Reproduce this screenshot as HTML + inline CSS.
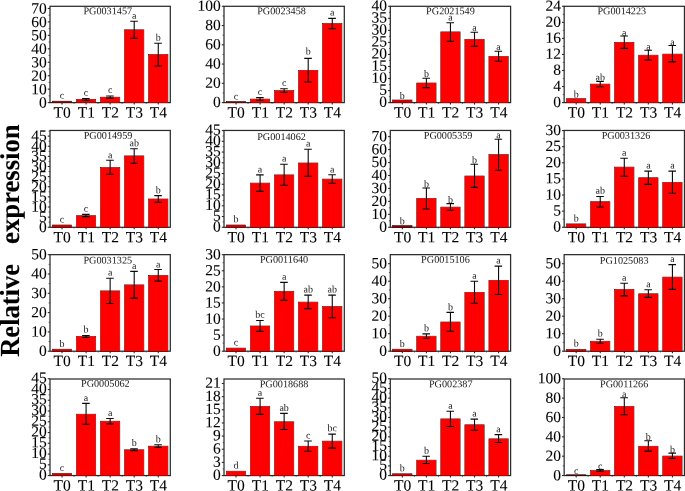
<!DOCTYPE html>
<html><head><meta charset="utf-8"><title>Relative expression</title>
<style>html,body{margin:0;padding:0;background:#fff;}body{width:685px;height:491px;overflow:hidden;font-family:"Liberation Serif",serif;}</style>
</head><body>
<svg width="685" height="491" viewBox="0 0 685 491" style="display:block;will-change:transform">
<rect width="685" height="491" fill="#fff"/>
<g font-family="'Liberation Serif', serif" fill="#000" stroke="#000" stroke-width="0.08" paint-order="stroke" text-rendering="geometricPrecision">
<text transform="translate(19.0,356.8) rotate(-90)" font-size="27.6" font-weight="bold" fill="#000" textLength="92.8" lengthAdjust="spacingAndGlyphs">Relative</text>
<text transform="translate(19.2,243.9) rotate(-90)" font-size="27.2" font-weight="bold" fill="#000" textLength="119.6" lengthAdjust="spacingAndGlyphs">expression</text>
<rect x="50" y="6.3" width="120.3" height="96.3" fill="none" stroke="#2b2b2b" stroke-width="1.25"/>
<rect x="52.38" y="101.2" width="19.3" height="1.5" fill="#8a0000" stroke="#100000" stroke-width="0.6"/>
<rect x="76.44" y="99.3" width="19.3" height="3.4" fill="#ee0000" stroke="#100000" stroke-width="0.6"/>
<rect x="100.5" y="97.2" width="19.3" height="5.5" fill="#ff0000" stroke="#100000" stroke-width="0.6"/>
<rect x="124.56" y="29.8" width="19.3" height="72.9" fill="#ff0000" stroke="#100000" stroke-width="0.6"/>
<rect x="148.62" y="54.5" width="19.3" height="48.2" fill="#ff0000" stroke="#100000" stroke-width="0.6"/>
<line x1="47.8" x2="50" y1="102.6" y2="102.6" stroke="#2b2b2b" stroke-width="1.1"/>
<text transform="translate(46.8,107.6) rotate(0.03)" font-size="15.5" text-anchor="end">0</text>
<line x1="48.6" x2="50" y1="95.88" y2="95.88" stroke="#2b2b2b" stroke-width="0.7"/>
<line x1="47.8" x2="50" y1="89.15" y2="89.15" stroke="#2b2b2b" stroke-width="1.1"/>
<text transform="translate(46.8,94.15) rotate(0.03)" font-size="15.5" text-anchor="end">10</text>
<line x1="48.6" x2="50" y1="82.42" y2="82.42" stroke="#2b2b2b" stroke-width="0.7"/>
<line x1="47.8" x2="50" y1="75.7" y2="75.7" stroke="#2b2b2b" stroke-width="1.1"/>
<text transform="translate(46.8,80.7) rotate(0.03)" font-size="15.5" text-anchor="end">20</text>
<line x1="48.6" x2="50" y1="68.97" y2="68.97" stroke="#2b2b2b" stroke-width="0.7"/>
<line x1="47.8" x2="50" y1="62.25" y2="62.25" stroke="#2b2b2b" stroke-width="1.1"/>
<text transform="translate(46.8,67.25) rotate(0.03)" font-size="15.5" text-anchor="end">30</text>
<line x1="48.6" x2="50" y1="55.52" y2="55.52" stroke="#2b2b2b" stroke-width="0.7"/>
<line x1="47.8" x2="50" y1="48.8" y2="48.8" stroke="#2b2b2b" stroke-width="1.1"/>
<text transform="translate(46.8,53.8) rotate(0.03)" font-size="15.5" text-anchor="end">40</text>
<line x1="48.6" x2="50" y1="42.07" y2="42.07" stroke="#2b2b2b" stroke-width="0.7"/>
<line x1="47.8" x2="50" y1="35.35" y2="35.35" stroke="#2b2b2b" stroke-width="1.1"/>
<text transform="translate(46.8,40.35) rotate(0.03)" font-size="15.5" text-anchor="end">50</text>
<line x1="48.6" x2="50" y1="28.62" y2="28.62" stroke="#2b2b2b" stroke-width="0.7"/>
<line x1="47.8" x2="50" y1="21.9" y2="21.9" stroke="#2b2b2b" stroke-width="1.1"/>
<text transform="translate(46.8,26.9) rotate(0.03)" font-size="15.5" text-anchor="end">60</text>
<line x1="48.6" x2="50" y1="15.18" y2="15.18" stroke="#2b2b2b" stroke-width="0.7"/>
<line x1="47.8" x2="50" y1="8.45" y2="8.45" stroke="#2b2b2b" stroke-width="1.1"/>
<text transform="translate(46.8,13.45) rotate(0.03)" font-size="15.5" text-anchor="end">70</text>
<line x1="62.03" x2="62.03" y1="102.6" y2="104.6" stroke="#2b2b2b" stroke-width="1.1"/>
<text transform="translate(62.23,117.5) rotate(0.03)" font-size="15.5" text-anchor="middle">T0</text>
<line x1="74.06" x2="74.06" y1="102.6" y2="103.8" stroke="#2b2b2b" stroke-width="0.8"/>
<line x1="86.09" x2="86.09" y1="102.6" y2="104.6" stroke="#2b2b2b" stroke-width="1.1"/>
<text transform="translate(86.29,117.5) rotate(0.03)" font-size="15.5" text-anchor="middle">T1</text>
<line x1="98.12" x2="98.12" y1="102.6" y2="103.8" stroke="#2b2b2b" stroke-width="0.8"/>
<line x1="110.15" x2="110.15" y1="102.6" y2="104.6" stroke="#2b2b2b" stroke-width="1.1"/>
<text transform="translate(110.35,117.5) rotate(0.03)" font-size="15.5" text-anchor="middle">T2</text>
<line x1="122.18" x2="122.18" y1="102.6" y2="103.8" stroke="#2b2b2b" stroke-width="0.8"/>
<line x1="134.21" x2="134.21" y1="102.6" y2="104.6" stroke="#2b2b2b" stroke-width="1.1"/>
<text transform="translate(134.41,117.5) rotate(0.03)" font-size="15.5" text-anchor="middle">T3</text>
<line x1="146.24" x2="146.24" y1="102.6" y2="103.8" stroke="#2b2b2b" stroke-width="0.8"/>
<line x1="158.27" x2="158.27" y1="102.6" y2="104.6" stroke="#2b2b2b" stroke-width="1.1"/>
<text transform="translate(158.47,117.5) rotate(0.03)" font-size="15.5" text-anchor="middle">T4</text>
<text transform="translate(107.75,14.2) rotate(0.03)" font-size="10.2" text-anchor="middle" fill="#1a1a1a" stroke="none">PG0031457</text>
<text transform="translate(62.03,98.6) rotate(0.03)" font-size="10" text-anchor="middle" fill="#1a1a1a" stroke="none">c</text>
<path d="M86.09 98.5V100.2M82.09 98.5H89.69M82.09 100.2H89.69" stroke="#0a0a0a" stroke-width="1.1" fill="none"/>
<text transform="translate(86.09,95.7) rotate(0.03)" font-size="10" text-anchor="middle" fill="#1a1a1a" stroke="none">c</text>
<path d="M110.15 96.05V98.1M106.15 96.05H113.75M106.15 98.1H113.75" stroke="#0a0a0a" stroke-width="1.1" fill="none"/>
<text transform="translate(110.15,93) rotate(0.03)" font-size="10" text-anchor="middle" fill="#1a1a1a" stroke="none">c</text>
<path d="M134.21 21.2V38.3M130.21 21.2H137.81M130.21 38.3H137.81" stroke="#0a0a0a" stroke-width="1.1" fill="none"/>
<text transform="translate(134.21,18.8) rotate(0.03)" font-size="10" text-anchor="middle" fill="#1a1a1a" stroke="none">a</text>
<path d="M158.27 43.2V66M154.27 43.2H161.87M154.27 66H161.87" stroke="#0a0a0a" stroke-width="1.1" fill="none"/>
<text transform="translate(158.27,40.8) rotate(0.03)" font-size="10" text-anchor="middle" fill="#1a1a1a" stroke="none">b</text>
<rect x="224" y="6.3" width="120.3" height="96.3" fill="none" stroke="#2b2b2b" stroke-width="1.25"/>
<rect x="226.38" y="101.6" width="19.3" height="1.1" fill="#8a0000" stroke="#100000" stroke-width="0.6"/>
<rect x="250.44" y="99.1" width="19.3" height="3.6" fill="#ff0000" stroke="#100000" stroke-width="0.6"/>
<rect x="274.5" y="90.6" width="19.3" height="12.1" fill="#ff0000" stroke="#100000" stroke-width="0.6"/>
<rect x="298.56" y="70.3" width="19.3" height="32.4" fill="#ff0000" stroke="#100000" stroke-width="0.6"/>
<rect x="322.62" y="23.5" width="19.3" height="79.2" fill="#ff0000" stroke="#100000" stroke-width="0.6"/>
<line x1="221.8" x2="224" y1="102.6" y2="102.6" stroke="#2b2b2b" stroke-width="1.1"/>
<text transform="translate(220.8,107.05) rotate(0.03)" font-size="15.5" text-anchor="end">0</text>
<line x1="222.6" x2="224" y1="92.97" y2="92.97" stroke="#2b2b2b" stroke-width="0.7"/>
<line x1="221.8" x2="224" y1="83.34" y2="83.34" stroke="#2b2b2b" stroke-width="1.1"/>
<text transform="translate(220.8,87.79) rotate(0.03)" font-size="15.5" text-anchor="end">20</text>
<line x1="222.6" x2="224" y1="73.71" y2="73.71" stroke="#2b2b2b" stroke-width="0.7"/>
<line x1="221.8" x2="224" y1="64.08" y2="64.08" stroke="#2b2b2b" stroke-width="1.1"/>
<text transform="translate(220.8,68.53) rotate(0.03)" font-size="15.5" text-anchor="end">40</text>
<line x1="222.6" x2="224" y1="54.45" y2="54.45" stroke="#2b2b2b" stroke-width="0.7"/>
<line x1="221.8" x2="224" y1="44.82" y2="44.82" stroke="#2b2b2b" stroke-width="1.1"/>
<text transform="translate(220.8,49.27) rotate(0.03)" font-size="15.5" text-anchor="end">60</text>
<line x1="222.6" x2="224" y1="35.19" y2="35.19" stroke="#2b2b2b" stroke-width="0.7"/>
<line x1="221.8" x2="224" y1="25.56" y2="25.56" stroke="#2b2b2b" stroke-width="1.1"/>
<text transform="translate(220.8,30.01) rotate(0.03)" font-size="15.5" text-anchor="end">80</text>
<line x1="222.6" x2="224" y1="15.93" y2="15.93" stroke="#2b2b2b" stroke-width="0.7"/>
<line x1="221.8" x2="224" y1="6.3" y2="6.3" stroke="#2b2b2b" stroke-width="1.1"/>
<text transform="translate(220.8,10.75) rotate(0.03)" font-size="15.5" text-anchor="end">100</text>
<line x1="236.03" x2="236.03" y1="102.6" y2="104.6" stroke="#2b2b2b" stroke-width="1.1"/>
<text transform="translate(236.23,117.5) rotate(0.03)" font-size="15.5" text-anchor="middle">T0</text>
<line x1="248.06" x2="248.06" y1="102.6" y2="103.8" stroke="#2b2b2b" stroke-width="0.8"/>
<line x1="260.09" x2="260.09" y1="102.6" y2="104.6" stroke="#2b2b2b" stroke-width="1.1"/>
<text transform="translate(260.29,117.5) rotate(0.03)" font-size="15.5" text-anchor="middle">T1</text>
<line x1="272.12" x2="272.12" y1="102.6" y2="103.8" stroke="#2b2b2b" stroke-width="0.8"/>
<line x1="284.15" x2="284.15" y1="102.6" y2="104.6" stroke="#2b2b2b" stroke-width="1.1"/>
<text transform="translate(284.35,117.5) rotate(0.03)" font-size="15.5" text-anchor="middle">T2</text>
<line x1="296.18" x2="296.18" y1="102.6" y2="103.8" stroke="#2b2b2b" stroke-width="0.8"/>
<line x1="308.21" x2="308.21" y1="102.6" y2="104.6" stroke="#2b2b2b" stroke-width="1.1"/>
<text transform="translate(308.41,117.5) rotate(0.03)" font-size="15.5" text-anchor="middle">T3</text>
<line x1="320.24" x2="320.24" y1="102.6" y2="103.8" stroke="#2b2b2b" stroke-width="0.8"/>
<line x1="332.27" x2="332.27" y1="102.6" y2="104.6" stroke="#2b2b2b" stroke-width="1.1"/>
<text transform="translate(332.47,117.5) rotate(0.03)" font-size="15.5" text-anchor="middle">T4</text>
<text transform="translate(281.55,14.2) rotate(0.03)" font-size="10.2" text-anchor="middle" fill="#1a1a1a" stroke="none">PG0023458</text>
<text transform="translate(236.03,99.5) rotate(0.03)" font-size="10" text-anchor="middle" fill="#1a1a1a" stroke="none">c</text>
<path d="M260.09 97.6V100.2M256.09 97.6H263.69M256.09 100.2H263.69" stroke="#0a0a0a" stroke-width="1.1" fill="none"/>
<text transform="translate(260.09,95.1) rotate(0.03)" font-size="10" text-anchor="middle" fill="#1a1a1a" stroke="none">c</text>
<path d="M284.15 88.8V92.3M280.15 88.8H287.75M280.15 92.3H287.75" stroke="#0a0a0a" stroke-width="1.1" fill="none"/>
<text transform="translate(284.15,85.9) rotate(0.03)" font-size="10" text-anchor="middle" fill="#1a1a1a" stroke="none">c</text>
<path d="M308.21 58.4V82M304.21 58.4H311.81M304.21 82H311.81" stroke="#0a0a0a" stroke-width="1.1" fill="none"/>
<text transform="translate(308.21,54.6) rotate(0.03)" font-size="10" text-anchor="middle" fill="#1a1a1a" stroke="none">b</text>
<path d="M332.27 18.4V28.8M328.27 18.4H335.87M328.27 28.8H335.87" stroke="#0a0a0a" stroke-width="1.1" fill="none"/>
<text transform="translate(332.27,15.6) rotate(0.03)" font-size="10" text-anchor="middle" fill="#1a1a1a" stroke="none">a</text>
<rect x="390.3" y="6.3" width="120.3" height="96.3" fill="none" stroke="#2b2b2b" stroke-width="1.25"/>
<rect x="392.68" y="100" width="19.3" height="2.7" fill="#d00000" stroke="#100000" stroke-width="0.6"/>
<rect x="416.74" y="83" width="19.3" height="19.7" fill="#ff0000" stroke="#100000" stroke-width="0.6"/>
<rect x="440.8" y="31.9" width="19.3" height="70.8" fill="#ff0000" stroke="#100000" stroke-width="0.6"/>
<rect x="464.86" y="39.3" width="19.3" height="63.4" fill="#ff0000" stroke="#100000" stroke-width="0.6"/>
<rect x="488.92" y="56.4" width="19.3" height="46.3" fill="#ff0000" stroke="#100000" stroke-width="0.6"/>
<line x1="388.1" x2="390.3" y1="102.6" y2="102.6" stroke="#2b2b2b" stroke-width="1.1"/>
<text transform="translate(387.1,106.75) rotate(0.03)" font-size="15.5" text-anchor="end">0</text>
<line x1="388.9" x2="390.3" y1="96.58" y2="96.58" stroke="#2b2b2b" stroke-width="0.7"/>
<line x1="388.1" x2="390.3" y1="90.56" y2="90.56" stroke="#2b2b2b" stroke-width="1.1"/>
<text transform="translate(387.1,94.71) rotate(0.03)" font-size="15.5" text-anchor="end">5</text>
<line x1="388.9" x2="390.3" y1="84.54" y2="84.54" stroke="#2b2b2b" stroke-width="0.7"/>
<line x1="388.1" x2="390.3" y1="78.52" y2="78.52" stroke="#2b2b2b" stroke-width="1.1"/>
<text transform="translate(387.1,82.67) rotate(0.03)" font-size="15.5" text-anchor="end">10</text>
<line x1="388.9" x2="390.3" y1="72.5" y2="72.5" stroke="#2b2b2b" stroke-width="0.7"/>
<line x1="388.1" x2="390.3" y1="66.48" y2="66.48" stroke="#2b2b2b" stroke-width="1.1"/>
<text transform="translate(387.1,70.63) rotate(0.03)" font-size="15.5" text-anchor="end">15</text>
<line x1="388.9" x2="390.3" y1="60.46" y2="60.46" stroke="#2b2b2b" stroke-width="0.7"/>
<line x1="388.1" x2="390.3" y1="54.44" y2="54.44" stroke="#2b2b2b" stroke-width="1.1"/>
<text transform="translate(387.1,58.59) rotate(0.03)" font-size="15.5" text-anchor="end">20</text>
<line x1="388.9" x2="390.3" y1="48.42" y2="48.42" stroke="#2b2b2b" stroke-width="0.7"/>
<line x1="388.1" x2="390.3" y1="42.4" y2="42.4" stroke="#2b2b2b" stroke-width="1.1"/>
<text transform="translate(387.1,46.55) rotate(0.03)" font-size="15.5" text-anchor="end">25</text>
<line x1="388.9" x2="390.3" y1="36.38" y2="36.38" stroke="#2b2b2b" stroke-width="0.7"/>
<line x1="388.1" x2="390.3" y1="30.36" y2="30.36" stroke="#2b2b2b" stroke-width="1.1"/>
<text transform="translate(387.1,34.51) rotate(0.03)" font-size="15.5" text-anchor="end">30</text>
<line x1="388.9" x2="390.3" y1="24.34" y2="24.34" stroke="#2b2b2b" stroke-width="0.7"/>
<line x1="388.1" x2="390.3" y1="18.32" y2="18.32" stroke="#2b2b2b" stroke-width="1.1"/>
<text transform="translate(387.1,22.47) rotate(0.03)" font-size="15.5" text-anchor="end">35</text>
<line x1="388.9" x2="390.3" y1="12.3" y2="12.3" stroke="#2b2b2b" stroke-width="0.7"/>
<line x1="388.1" x2="390.3" y1="6.28" y2="6.28" stroke="#2b2b2b" stroke-width="1.1"/>
<text transform="translate(387.1,10.43) rotate(0.03)" font-size="15.5" text-anchor="end">40</text>
<line x1="402.33" x2="402.33" y1="102.6" y2="104.6" stroke="#2b2b2b" stroke-width="1.1"/>
<text transform="translate(402.53,117.5) rotate(0.03)" font-size="15.5" text-anchor="middle">T0</text>
<line x1="414.36" x2="414.36" y1="102.6" y2="103.8" stroke="#2b2b2b" stroke-width="0.8"/>
<line x1="426.39" x2="426.39" y1="102.6" y2="104.6" stroke="#2b2b2b" stroke-width="1.1"/>
<text transform="translate(426.59,117.5) rotate(0.03)" font-size="15.5" text-anchor="middle">T1</text>
<line x1="438.42" x2="438.42" y1="102.6" y2="103.8" stroke="#2b2b2b" stroke-width="0.8"/>
<line x1="450.45" x2="450.45" y1="102.6" y2="104.6" stroke="#2b2b2b" stroke-width="1.1"/>
<text transform="translate(450.65,117.5) rotate(0.03)" font-size="15.5" text-anchor="middle">T2</text>
<line x1="462.48" x2="462.48" y1="102.6" y2="103.8" stroke="#2b2b2b" stroke-width="0.8"/>
<line x1="474.51" x2="474.51" y1="102.6" y2="104.6" stroke="#2b2b2b" stroke-width="1.1"/>
<text transform="translate(474.71,117.5) rotate(0.03)" font-size="15.5" text-anchor="middle">T3</text>
<line x1="486.54" x2="486.54" y1="102.6" y2="103.8" stroke="#2b2b2b" stroke-width="0.8"/>
<line x1="498.57" x2="498.57" y1="102.6" y2="104.6" stroke="#2b2b2b" stroke-width="1.1"/>
<text transform="translate(498.77,117.5) rotate(0.03)" font-size="15.5" text-anchor="middle">T4</text>
<text transform="translate(450.45,14.2) rotate(0.03)" font-size="10.2" text-anchor="middle" fill="#1a1a1a" stroke="none">PG2021549</text>
<text transform="translate(402.33,98.9) rotate(0.03)" font-size="10" text-anchor="middle" fill="#1a1a1a" stroke="none">b</text>
<path d="M426.39 78.3V87.6M422.39 78.3H429.99M422.39 87.6H429.99" stroke="#0a0a0a" stroke-width="1.1" fill="none"/>
<text transform="translate(426.39,77) rotate(0.03)" font-size="10" text-anchor="middle" fill="#1a1a1a" stroke="none">b</text>
<path d="M450.45 22.8V41.4M446.45 22.8H454.05M446.45 41.4H454.05" stroke="#0a0a0a" stroke-width="1.1" fill="none"/>
<text transform="translate(450.45,20.5) rotate(0.03)" font-size="10" text-anchor="middle" fill="#1a1a1a" stroke="none">a</text>
<path d="M474.51 32.3V46.3M470.51 32.3H478.11M470.51 46.3H478.11" stroke="#0a0a0a" stroke-width="1.1" fill="none"/>
<text transform="translate(474.51,30.7) rotate(0.03)" font-size="10" text-anchor="middle" fill="#1a1a1a" stroke="none">a</text>
<path d="M498.57 51.2V61.3M494.57 51.2H502.17M494.57 61.3H502.17" stroke="#0a0a0a" stroke-width="1.1" fill="none"/>
<text transform="translate(498.57,49.9) rotate(0.03)" font-size="10" text-anchor="middle" fill="#1a1a1a" stroke="none">a</text>
<rect x="564.15" y="6.3" width="120.3" height="96.3" fill="none" stroke="#2b2b2b" stroke-width="1.25"/>
<rect x="566.53" y="98.7" width="19.3" height="4" fill="#ff0000" stroke="#100000" stroke-width="0.6"/>
<rect x="590.59" y="84.1" width="19.3" height="18.6" fill="#ff0000" stroke="#100000" stroke-width="0.6"/>
<rect x="614.65" y="42.3" width="19.3" height="60.4" fill="#ff0000" stroke="#100000" stroke-width="0.6"/>
<rect x="638.71" y="55.2" width="19.3" height="47.5" fill="#ff0000" stroke="#100000" stroke-width="0.6"/>
<rect x="662.77" y="54.1" width="19.3" height="48.6" fill="#ff0000" stroke="#100000" stroke-width="0.6"/>
<line x1="561.95" x2="564.15" y1="102.6" y2="102.6" stroke="#2b2b2b" stroke-width="1.1"/>
<text transform="translate(560.95,106.95) rotate(0.03)" font-size="15.5" text-anchor="end">0</text>
<line x1="562.75" x2="564.15" y1="94.57" y2="94.57" stroke="#2b2b2b" stroke-width="0.7"/>
<line x1="561.95" x2="564.15" y1="86.55" y2="86.55" stroke="#2b2b2b" stroke-width="1.1"/>
<text transform="translate(560.95,90.9) rotate(0.03)" font-size="15.5" text-anchor="end">4</text>
<line x1="562.75" x2="564.15" y1="78.52" y2="78.52" stroke="#2b2b2b" stroke-width="0.7"/>
<line x1="561.95" x2="564.15" y1="70.5" y2="70.5" stroke="#2b2b2b" stroke-width="1.1"/>
<text transform="translate(560.95,74.85) rotate(0.03)" font-size="15.5" text-anchor="end">8</text>
<line x1="562.75" x2="564.15" y1="62.48" y2="62.48" stroke="#2b2b2b" stroke-width="0.7"/>
<line x1="561.95" x2="564.15" y1="54.45" y2="54.45" stroke="#2b2b2b" stroke-width="1.1"/>
<text transform="translate(560.95,58.8) rotate(0.03)" font-size="15.5" text-anchor="end">12</text>
<line x1="562.75" x2="564.15" y1="46.42" y2="46.42" stroke="#2b2b2b" stroke-width="0.7"/>
<line x1="561.95" x2="564.15" y1="38.4" y2="38.4" stroke="#2b2b2b" stroke-width="1.1"/>
<text transform="translate(560.95,42.75) rotate(0.03)" font-size="15.5" text-anchor="end">16</text>
<line x1="562.75" x2="564.15" y1="30.37" y2="30.37" stroke="#2b2b2b" stroke-width="0.7"/>
<line x1="561.95" x2="564.15" y1="22.35" y2="22.35" stroke="#2b2b2b" stroke-width="1.1"/>
<text transform="translate(560.95,26.7) rotate(0.03)" font-size="15.5" text-anchor="end">20</text>
<line x1="562.75" x2="564.15" y1="14.32" y2="14.32" stroke="#2b2b2b" stroke-width="0.7"/>
<line x1="561.95" x2="564.15" y1="6.3" y2="6.3" stroke="#2b2b2b" stroke-width="1.1"/>
<text transform="translate(560.95,10.65) rotate(0.03)" font-size="15.5" text-anchor="end">24</text>
<line x1="576.18" x2="576.18" y1="102.6" y2="104.6" stroke="#2b2b2b" stroke-width="1.1"/>
<text transform="translate(576.38,117.5) rotate(0.03)" font-size="15.5" text-anchor="middle">T0</text>
<line x1="588.21" x2="588.21" y1="102.6" y2="103.8" stroke="#2b2b2b" stroke-width="0.8"/>
<line x1="600.24" x2="600.24" y1="102.6" y2="104.6" stroke="#2b2b2b" stroke-width="1.1"/>
<text transform="translate(600.44,117.5) rotate(0.03)" font-size="15.5" text-anchor="middle">T1</text>
<line x1="612.27" x2="612.27" y1="102.6" y2="103.8" stroke="#2b2b2b" stroke-width="0.8"/>
<line x1="624.3" x2="624.3" y1="102.6" y2="104.6" stroke="#2b2b2b" stroke-width="1.1"/>
<text transform="translate(624.5,117.5) rotate(0.03)" font-size="15.5" text-anchor="middle">T2</text>
<line x1="636.33" x2="636.33" y1="102.6" y2="103.8" stroke="#2b2b2b" stroke-width="0.8"/>
<line x1="648.36" x2="648.36" y1="102.6" y2="104.6" stroke="#2b2b2b" stroke-width="1.1"/>
<text transform="translate(648.56,117.5) rotate(0.03)" font-size="15.5" text-anchor="middle">T3</text>
<line x1="660.39" x2="660.39" y1="102.6" y2="103.8" stroke="#2b2b2b" stroke-width="0.8"/>
<line x1="672.42" x2="672.42" y1="102.6" y2="104.6" stroke="#2b2b2b" stroke-width="1.1"/>
<text transform="translate(672.62,117.5) rotate(0.03)" font-size="15.5" text-anchor="middle">T4</text>
<text transform="translate(621.8,14.2) rotate(0.03)" font-size="10.2" text-anchor="middle" fill="#1a1a1a" stroke="none">PG0014223</text>
<text transform="translate(576.18,97.6) rotate(0.03)" font-size="10" text-anchor="middle" fill="#1a1a1a" stroke="none">b</text>
<path d="M600.24 81.5V86.7M596.24 81.5H603.84M596.24 86.7H603.84" stroke="#0a0a0a" stroke-width="1.1" fill="none"/>
<text transform="translate(600.24,80.4) rotate(0.03)" font-size="10" text-anchor="middle" fill="#1a1a1a" stroke="none">ab</text>
<path d="M624.3 36.05V48.4M620.3 36.05H627.9M620.3 48.4H627.9" stroke="#0a0a0a" stroke-width="1.1" fill="none"/>
<text transform="translate(624.3,35.7) rotate(0.03)" font-size="10" text-anchor="middle" fill="#1a1a1a" stroke="none">a</text>
<path d="M648.36 50.3V60M644.36 50.3H651.96M644.36 60H651.96" stroke="#0a0a0a" stroke-width="1.1" fill="none"/>
<text transform="translate(648.36,49.7) rotate(0.03)" font-size="10" text-anchor="middle" fill="#1a1a1a" stroke="none">a</text>
<path d="M672.42 45.5V61.9M668.42 45.5H676.02M668.42 61.9H676.02" stroke="#0a0a0a" stroke-width="1.1" fill="none"/>
<text transform="translate(672.42,45.2) rotate(0.03)" font-size="10" text-anchor="middle" fill="#1a1a1a" stroke="none">a</text>
<rect x="50" y="130.45" width="120.3" height="96.82" fill="none" stroke="#2b2b2b" stroke-width="1.25"/>
<rect x="52.38" y="225" width="19.3" height="2.37" fill="#d00000" stroke="#100000" stroke-width="0.6"/>
<rect x="76.44" y="215.7" width="19.3" height="11.67" fill="#ff0000" stroke="#100000" stroke-width="0.6"/>
<rect x="100.5" y="167.5" width="19.3" height="59.87" fill="#ff0000" stroke="#100000" stroke-width="0.6"/>
<rect x="124.56" y="155.9" width="19.3" height="71.47" fill="#ff0000" stroke="#100000" stroke-width="0.6"/>
<rect x="148.62" y="199" width="19.3" height="28.37" fill="#ff0000" stroke="#100000" stroke-width="0.6"/>
<line x1="47.8" x2="50" y1="227.27" y2="227.27" stroke="#2b2b2b" stroke-width="1.1"/>
<text transform="translate(46.8,231.97) rotate(0.03)" font-size="15.5" text-anchor="end">0</text>
<line x1="48.6" x2="50" y1="222.21" y2="222.21" stroke="#2b2b2b" stroke-width="0.7"/>
<line x1="47.8" x2="50" y1="217.14" y2="217.14" stroke="#2b2b2b" stroke-width="1.1"/>
<text transform="translate(46.8,221.84) rotate(0.03)" font-size="15.5" text-anchor="end">5</text>
<line x1="48.6" x2="50" y1="212.08" y2="212.08" stroke="#2b2b2b" stroke-width="0.7"/>
<line x1="47.8" x2="50" y1="207.01" y2="207.01" stroke="#2b2b2b" stroke-width="1.1"/>
<text transform="translate(46.8,211.71) rotate(0.03)" font-size="15.5" text-anchor="end">10</text>
<line x1="48.6" x2="50" y1="201.95" y2="201.95" stroke="#2b2b2b" stroke-width="0.7"/>
<line x1="47.8" x2="50" y1="196.88" y2="196.88" stroke="#2b2b2b" stroke-width="1.1"/>
<text transform="translate(46.8,201.58) rotate(0.03)" font-size="15.5" text-anchor="end">15</text>
<line x1="48.6" x2="50" y1="191.81" y2="191.81" stroke="#2b2b2b" stroke-width="0.7"/>
<line x1="47.8" x2="50" y1="186.75" y2="186.75" stroke="#2b2b2b" stroke-width="1.1"/>
<text transform="translate(46.8,191.45) rotate(0.03)" font-size="15.5" text-anchor="end">20</text>
<line x1="48.6" x2="50" y1="181.69" y2="181.69" stroke="#2b2b2b" stroke-width="0.7"/>
<line x1="47.8" x2="50" y1="176.62" y2="176.62" stroke="#2b2b2b" stroke-width="1.1"/>
<text transform="translate(46.8,181.32) rotate(0.03)" font-size="15.5" text-anchor="end">25</text>
<line x1="48.6" x2="50" y1="171.56" y2="171.56" stroke="#2b2b2b" stroke-width="0.7"/>
<line x1="47.8" x2="50" y1="166.49" y2="166.49" stroke="#2b2b2b" stroke-width="1.1"/>
<text transform="translate(46.8,171.19) rotate(0.03)" font-size="15.5" text-anchor="end">30</text>
<line x1="48.6" x2="50" y1="161.43" y2="161.43" stroke="#2b2b2b" stroke-width="0.7"/>
<line x1="47.8" x2="50" y1="156.36" y2="156.36" stroke="#2b2b2b" stroke-width="1.1"/>
<text transform="translate(46.8,161.06) rotate(0.03)" font-size="15.5" text-anchor="end">35</text>
<line x1="48.6" x2="50" y1="151.3" y2="151.3" stroke="#2b2b2b" stroke-width="0.7"/>
<line x1="47.8" x2="50" y1="146.23" y2="146.23" stroke="#2b2b2b" stroke-width="1.1"/>
<text transform="translate(46.8,150.93) rotate(0.03)" font-size="15.5" text-anchor="end">40</text>
<line x1="48.6" x2="50" y1="141.17" y2="141.17" stroke="#2b2b2b" stroke-width="0.7"/>
<line x1="47.8" x2="50" y1="136.1" y2="136.1" stroke="#2b2b2b" stroke-width="1.1"/>
<text transform="translate(46.8,140.8) rotate(0.03)" font-size="15.5" text-anchor="end">45</text>
<line x1="48.6" x2="50" y1="131.04" y2="131.04" stroke="#2b2b2b" stroke-width="0.7"/>
<line x1="62.03" x2="62.03" y1="227.27" y2="229.27" stroke="#2b2b2b" stroke-width="1.1"/>
<text transform="translate(62.23,242.17) rotate(0.03)" font-size="15.5" text-anchor="middle">T0</text>
<line x1="74.06" x2="74.06" y1="227.27" y2="228.47" stroke="#2b2b2b" stroke-width="0.8"/>
<line x1="86.09" x2="86.09" y1="227.27" y2="229.27" stroke="#2b2b2b" stroke-width="1.1"/>
<text transform="translate(86.29,242.17) rotate(0.03)" font-size="15.5" text-anchor="middle">T1</text>
<line x1="98.12" x2="98.12" y1="227.27" y2="228.47" stroke="#2b2b2b" stroke-width="0.8"/>
<line x1="110.15" x2="110.15" y1="227.27" y2="229.27" stroke="#2b2b2b" stroke-width="1.1"/>
<text transform="translate(110.35,242.17) rotate(0.03)" font-size="15.5" text-anchor="middle">T2</text>
<line x1="122.18" x2="122.18" y1="227.27" y2="228.47" stroke="#2b2b2b" stroke-width="0.8"/>
<line x1="134.21" x2="134.21" y1="227.27" y2="229.27" stroke="#2b2b2b" stroke-width="1.1"/>
<text transform="translate(134.41,242.17) rotate(0.03)" font-size="15.5" text-anchor="middle">T3</text>
<line x1="146.24" x2="146.24" y1="227.27" y2="228.47" stroke="#2b2b2b" stroke-width="0.8"/>
<line x1="158.27" x2="158.27" y1="227.27" y2="229.27" stroke="#2b2b2b" stroke-width="1.1"/>
<text transform="translate(158.47,242.17) rotate(0.03)" font-size="15.5" text-anchor="middle">T4</text>
<text transform="translate(108.05,138.7) rotate(0.03)" font-size="10.2" text-anchor="middle" fill="#1a1a1a" stroke="none">PG0014959</text>
<text transform="translate(62.03,222.6) rotate(0.03)" font-size="10" text-anchor="middle" fill="#1a1a1a" stroke="none">c</text>
<path d="M86.09 214.4V216.6M82.09 214.4H89.69M82.09 216.6H89.69" stroke="#0a0a0a" stroke-width="1.1" fill="none"/>
<text transform="translate(86.09,211.7) rotate(0.03)" font-size="10" text-anchor="middle" fill="#1a1a1a" stroke="none">c</text>
<path d="M110.15 160.3V174.3M106.15 160.3H113.75M106.15 174.3H113.75" stroke="#0a0a0a" stroke-width="1.1" fill="none"/>
<text transform="translate(110.15,158.2) rotate(0.03)" font-size="10" text-anchor="middle" fill="#1a1a1a" stroke="none">a</text>
<path d="M134.21 148.7V163.3M130.21 148.7H137.81M130.21 163.3H137.81" stroke="#0a0a0a" stroke-width="1.1" fill="none"/>
<text transform="translate(134.21,146.3) rotate(0.03)" font-size="10" text-anchor="middle" fill="#1a1a1a" stroke="none">ab</text>
<path d="M158.27 195.6V202.3M154.27 195.6H161.87M154.27 202.3H161.87" stroke="#0a0a0a" stroke-width="1.1" fill="none"/>
<text transform="translate(158.27,193.3) rotate(0.03)" font-size="10" text-anchor="middle" fill="#1a1a1a" stroke="none">b</text>
<rect x="224" y="130.45" width="120.3" height="96.82" fill="none" stroke="#2b2b2b" stroke-width="1.25"/>
<rect x="226.38" y="225" width="19.3" height="2.37" fill="#d00000" stroke="#100000" stroke-width="0.6"/>
<rect x="250.44" y="183.1" width="19.3" height="44.27" fill="#ff0000" stroke="#100000" stroke-width="0.6"/>
<rect x="274.5" y="174.9" width="19.3" height="52.47" fill="#ff0000" stroke="#100000" stroke-width="0.6"/>
<rect x="298.56" y="163" width="19.3" height="64.37" fill="#ff0000" stroke="#100000" stroke-width="0.6"/>
<rect x="322.62" y="179.1" width="19.3" height="48.27" fill="#ff0000" stroke="#100000" stroke-width="0.6"/>
<line x1="221.8" x2="224" y1="227.27" y2="227.27" stroke="#2b2b2b" stroke-width="1.1"/>
<text transform="translate(220.8,231.57) rotate(0.03)" font-size="15.5" text-anchor="end">0</text>
<line x1="222.6" x2="224" y1="221.9" y2="221.9" stroke="#2b2b2b" stroke-width="0.7"/>
<line x1="221.8" x2="224" y1="216.53" y2="216.53" stroke="#2b2b2b" stroke-width="1.1"/>
<text transform="translate(220.8,220.83) rotate(0.03)" font-size="15.5" text-anchor="end">5</text>
<line x1="222.6" x2="224" y1="211.15" y2="211.15" stroke="#2b2b2b" stroke-width="0.7"/>
<line x1="221.8" x2="224" y1="205.78" y2="205.78" stroke="#2b2b2b" stroke-width="1.1"/>
<text transform="translate(220.8,210.08) rotate(0.03)" font-size="15.5" text-anchor="end">10</text>
<line x1="222.6" x2="224" y1="200.41" y2="200.41" stroke="#2b2b2b" stroke-width="0.7"/>
<line x1="221.8" x2="224" y1="195.04" y2="195.04" stroke="#2b2b2b" stroke-width="1.1"/>
<text transform="translate(220.8,199.34) rotate(0.03)" font-size="15.5" text-anchor="end">15</text>
<line x1="222.6" x2="224" y1="189.67" y2="189.67" stroke="#2b2b2b" stroke-width="0.7"/>
<line x1="221.8" x2="224" y1="184.29" y2="184.29" stroke="#2b2b2b" stroke-width="1.1"/>
<text transform="translate(220.8,188.59) rotate(0.03)" font-size="15.5" text-anchor="end">20</text>
<line x1="222.6" x2="224" y1="178.92" y2="178.92" stroke="#2b2b2b" stroke-width="0.7"/>
<line x1="221.8" x2="224" y1="173.55" y2="173.55" stroke="#2b2b2b" stroke-width="1.1"/>
<text transform="translate(220.8,177.85) rotate(0.03)" font-size="15.5" text-anchor="end">25</text>
<line x1="222.6" x2="224" y1="168.18" y2="168.18" stroke="#2b2b2b" stroke-width="0.7"/>
<line x1="221.8" x2="224" y1="162.81" y2="162.81" stroke="#2b2b2b" stroke-width="1.1"/>
<text transform="translate(220.8,167.11) rotate(0.03)" font-size="15.5" text-anchor="end">30</text>
<line x1="222.6" x2="224" y1="157.43" y2="157.43" stroke="#2b2b2b" stroke-width="0.7"/>
<line x1="221.8" x2="224" y1="152.06" y2="152.06" stroke="#2b2b2b" stroke-width="1.1"/>
<text transform="translate(220.8,156.36) rotate(0.03)" font-size="15.5" text-anchor="end">35</text>
<line x1="222.6" x2="224" y1="146.69" y2="146.69" stroke="#2b2b2b" stroke-width="0.7"/>
<line x1="221.8" x2="224" y1="141.32" y2="141.32" stroke="#2b2b2b" stroke-width="1.1"/>
<text transform="translate(220.8,145.62) rotate(0.03)" font-size="15.5" text-anchor="end">40</text>
<line x1="222.6" x2="224" y1="135.95" y2="135.95" stroke="#2b2b2b" stroke-width="0.7"/>
<line x1="221.8" x2="224" y1="130.57" y2="130.57" stroke="#2b2b2b" stroke-width="1.1"/>
<text transform="translate(220.8,134.87) rotate(0.03)" font-size="15.5" text-anchor="end">45</text>
<line x1="236.03" x2="236.03" y1="227.27" y2="229.27" stroke="#2b2b2b" stroke-width="1.1"/>
<text transform="translate(236.23,242.17) rotate(0.03)" font-size="15.5" text-anchor="middle">T0</text>
<line x1="248.06" x2="248.06" y1="227.27" y2="228.47" stroke="#2b2b2b" stroke-width="0.8"/>
<line x1="260.09" x2="260.09" y1="227.27" y2="229.27" stroke="#2b2b2b" stroke-width="1.1"/>
<text transform="translate(260.29,242.17) rotate(0.03)" font-size="15.5" text-anchor="middle">T1</text>
<line x1="272.12" x2="272.12" y1="227.27" y2="228.47" stroke="#2b2b2b" stroke-width="0.8"/>
<line x1="284.15" x2="284.15" y1="227.27" y2="229.27" stroke="#2b2b2b" stroke-width="1.1"/>
<text transform="translate(284.35,242.17) rotate(0.03)" font-size="15.5" text-anchor="middle">T2</text>
<line x1="296.18" x2="296.18" y1="227.27" y2="228.47" stroke="#2b2b2b" stroke-width="0.8"/>
<line x1="308.21" x2="308.21" y1="227.27" y2="229.27" stroke="#2b2b2b" stroke-width="1.1"/>
<text transform="translate(308.41,242.17) rotate(0.03)" font-size="15.5" text-anchor="middle">T3</text>
<line x1="320.24" x2="320.24" y1="227.27" y2="228.47" stroke="#2b2b2b" stroke-width="0.8"/>
<line x1="332.27" x2="332.27" y1="227.27" y2="229.27" stroke="#2b2b2b" stroke-width="1.1"/>
<text transform="translate(332.47,242.17) rotate(0.03)" font-size="15.5" text-anchor="middle">T4</text>
<text transform="translate(281.55,140) rotate(0.03)" font-size="10.2" text-anchor="middle" fill="#1a1a1a" stroke="none">PG0014062</text>
<text transform="translate(236.03,222.2) rotate(0.03)" font-size="10" text-anchor="middle" fill="#1a1a1a" stroke="none">b</text>
<path d="M260.09 174.9V191.4M256.09 174.9H263.69M256.09 191.4H263.69" stroke="#0a0a0a" stroke-width="1.1" fill="none"/>
<text transform="translate(260.09,172.4) rotate(0.03)" font-size="10" text-anchor="middle" fill="#1a1a1a" stroke="none">a</text>
<path d="M284.15 164.3V185.3M280.15 164.3H287.75M280.15 185.3H287.75" stroke="#0a0a0a" stroke-width="1.1" fill="none"/>
<text transform="translate(284.15,161.6) rotate(0.03)" font-size="10" text-anchor="middle" fill="#1a1a1a" stroke="none">a</text>
<path d="M308.21 149.3V176.2M304.21 149.3H311.81M304.21 176.2H311.81" stroke="#0a0a0a" stroke-width="1.1" fill="none"/>
<text transform="translate(308.21,146.4) rotate(0.03)" font-size="10" text-anchor="middle" fill="#1a1a1a" stroke="none">a</text>
<path d="M332.27 174.7V183.3M328.27 174.7H335.87M328.27 183.3H335.87" stroke="#0a0a0a" stroke-width="1.1" fill="none"/>
<text transform="translate(332.27,172.4) rotate(0.03)" font-size="10" text-anchor="middle" fill="#1a1a1a" stroke="none">a</text>
<rect x="390.3" y="130.45" width="120.3" height="96.82" fill="none" stroke="#2b2b2b" stroke-width="1.25"/>
<rect x="392.68" y="225.6" width="19.3" height="1.77" fill="#8a0000" stroke="#100000" stroke-width="0.6"/>
<rect x="416.74" y="198.35" width="19.3" height="29.02" fill="#ff0000" stroke="#100000" stroke-width="0.6"/>
<rect x="440.8" y="207.1" width="19.3" height="20.27" fill="#ff0000" stroke="#100000" stroke-width="0.6"/>
<rect x="464.86" y="176" width="19.3" height="51.37" fill="#ff0000" stroke="#100000" stroke-width="0.6"/>
<rect x="488.92" y="154.6" width="19.3" height="72.77" fill="#ff0000" stroke="#100000" stroke-width="0.6"/>
<line x1="388.1" x2="390.3" y1="227.27" y2="227.27" stroke="#2b2b2b" stroke-width="1.1"/>
<text transform="translate(387.1,231.87) rotate(0.03)" font-size="15.5" text-anchor="end">0</text>
<line x1="388.9" x2="390.3" y1="220.8" y2="220.8" stroke="#2b2b2b" stroke-width="0.7"/>
<line x1="388.1" x2="390.3" y1="214.32" y2="214.32" stroke="#2b2b2b" stroke-width="1.1"/>
<text transform="translate(387.1,218.92) rotate(0.03)" font-size="15.5" text-anchor="end">10</text>
<line x1="388.9" x2="390.3" y1="207.85" y2="207.85" stroke="#2b2b2b" stroke-width="0.7"/>
<line x1="388.1" x2="390.3" y1="201.37" y2="201.37" stroke="#2b2b2b" stroke-width="1.1"/>
<text transform="translate(387.1,205.97) rotate(0.03)" font-size="15.5" text-anchor="end">20</text>
<line x1="388.9" x2="390.3" y1="194.9" y2="194.9" stroke="#2b2b2b" stroke-width="0.7"/>
<line x1="388.1" x2="390.3" y1="188.42" y2="188.42" stroke="#2b2b2b" stroke-width="1.1"/>
<text transform="translate(387.1,193.02) rotate(0.03)" font-size="15.5" text-anchor="end">30</text>
<line x1="388.9" x2="390.3" y1="181.95" y2="181.95" stroke="#2b2b2b" stroke-width="0.7"/>
<line x1="388.1" x2="390.3" y1="175.47" y2="175.47" stroke="#2b2b2b" stroke-width="1.1"/>
<text transform="translate(387.1,180.07) rotate(0.03)" font-size="15.5" text-anchor="end">40</text>
<line x1="388.9" x2="390.3" y1="169" y2="169" stroke="#2b2b2b" stroke-width="0.7"/>
<line x1="388.1" x2="390.3" y1="162.52" y2="162.52" stroke="#2b2b2b" stroke-width="1.1"/>
<text transform="translate(387.1,167.12) rotate(0.03)" font-size="15.5" text-anchor="end">50</text>
<line x1="388.9" x2="390.3" y1="156.05" y2="156.05" stroke="#2b2b2b" stroke-width="0.7"/>
<line x1="388.1" x2="390.3" y1="149.57" y2="149.57" stroke="#2b2b2b" stroke-width="1.1"/>
<text transform="translate(387.1,154.17) rotate(0.03)" font-size="15.5" text-anchor="end">60</text>
<line x1="388.9" x2="390.3" y1="143.1" y2="143.1" stroke="#2b2b2b" stroke-width="0.7"/>
<line x1="388.1" x2="390.3" y1="136.62" y2="136.62" stroke="#2b2b2b" stroke-width="1.1"/>
<text transform="translate(387.1,141.22) rotate(0.03)" font-size="15.5" text-anchor="end">70</text>
<line x1="402.33" x2="402.33" y1="227.27" y2="229.27" stroke="#2b2b2b" stroke-width="1.1"/>
<text transform="translate(402.53,242.17) rotate(0.03)" font-size="15.5" text-anchor="middle">T0</text>
<line x1="414.36" x2="414.36" y1="227.27" y2="228.47" stroke="#2b2b2b" stroke-width="0.8"/>
<line x1="426.39" x2="426.39" y1="227.27" y2="229.27" stroke="#2b2b2b" stroke-width="1.1"/>
<text transform="translate(426.59,242.17) rotate(0.03)" font-size="15.5" text-anchor="middle">T1</text>
<line x1="438.42" x2="438.42" y1="227.27" y2="228.47" stroke="#2b2b2b" stroke-width="0.8"/>
<line x1="450.45" x2="450.45" y1="227.27" y2="229.27" stroke="#2b2b2b" stroke-width="1.1"/>
<text transform="translate(450.65,242.17) rotate(0.03)" font-size="15.5" text-anchor="middle">T2</text>
<line x1="462.48" x2="462.48" y1="227.27" y2="228.47" stroke="#2b2b2b" stroke-width="0.8"/>
<line x1="474.51" x2="474.51" y1="227.27" y2="229.27" stroke="#2b2b2b" stroke-width="1.1"/>
<text transform="translate(474.71,242.17) rotate(0.03)" font-size="15.5" text-anchor="middle">T3</text>
<line x1="486.54" x2="486.54" y1="227.27" y2="228.47" stroke="#2b2b2b" stroke-width="0.8"/>
<line x1="498.57" x2="498.57" y1="227.27" y2="229.27" stroke="#2b2b2b" stroke-width="1.1"/>
<text transform="translate(498.77,242.17) rotate(0.03)" font-size="15.5" text-anchor="middle">T4</text>
<text transform="translate(448.1,138.7) rotate(0.03)" font-size="10.2" text-anchor="middle" fill="#1a1a1a" stroke="none">PG0005359</text>
<text transform="translate(402.33,224.3) rotate(0.03)" font-size="10" text-anchor="middle" fill="#1a1a1a" stroke="none">b</text>
<path d="M426.39 188V209M422.39 188H429.99M422.39 209H429.99" stroke="#0a0a0a" stroke-width="1.1" fill="none"/>
<text transform="translate(426.39,187.2) rotate(0.03)" font-size="10" text-anchor="middle" fill="#1a1a1a" stroke="none">b</text>
<path d="M450.45 203.65V210.2M446.45 203.65H454.05M446.45 210.2H454.05" stroke="#0a0a0a" stroke-width="1.1" fill="none"/>
<text transform="translate(450.45,202.9) rotate(0.03)" font-size="10" text-anchor="middle" fill="#1a1a1a" stroke="none">b</text>
<path d="M474.51 164.3V187.4M470.51 164.3H478.11M470.51 187.4H478.11" stroke="#0a0a0a" stroke-width="1.1" fill="none"/>
<text transform="translate(474.51,163.3) rotate(0.03)" font-size="10" text-anchor="middle" fill="#1a1a1a" stroke="none">b</text>
<path d="M498.57 139.2V170.2M494.57 139.2H502.17M494.57 170.2H502.17" stroke="#0a0a0a" stroke-width="1.1" fill="none"/>
<text transform="translate(498.57,138.3) rotate(0.03)" font-size="10" text-anchor="middle" fill="#1a1a1a" stroke="none">a</text>
<rect x="564.15" y="130.45" width="120.3" height="96.82" fill="none" stroke="#2b2b2b" stroke-width="1.25"/>
<rect x="566.53" y="223.9" width="19.3" height="3.47" fill="#ee0000" stroke="#100000" stroke-width="0.6"/>
<rect x="590.59" y="201.7" width="19.3" height="25.67" fill="#ff0000" stroke="#100000" stroke-width="0.6"/>
<rect x="614.65" y="167.1" width="19.3" height="60.27" fill="#ff0000" stroke="#100000" stroke-width="0.6"/>
<rect x="638.71" y="177.75" width="19.3" height="49.62" fill="#ff0000" stroke="#100000" stroke-width="0.6"/>
<rect x="662.77" y="182.3" width="19.3" height="45.07" fill="#ff0000" stroke="#100000" stroke-width="0.6"/>
<line x1="561.95" x2="564.15" y1="227.27" y2="227.27" stroke="#2b2b2b" stroke-width="1.1"/>
<text transform="translate(560.95,231.62) rotate(0.03)" font-size="15.5" text-anchor="end">0</text>
<line x1="562.75" x2="564.15" y1="219.21" y2="219.21" stroke="#2b2b2b" stroke-width="0.7"/>
<line x1="561.95" x2="564.15" y1="211.15" y2="211.15" stroke="#2b2b2b" stroke-width="1.1"/>
<text transform="translate(560.95,215.5) rotate(0.03)" font-size="15.5" text-anchor="end">5</text>
<line x1="562.75" x2="564.15" y1="203.09" y2="203.09" stroke="#2b2b2b" stroke-width="0.7"/>
<line x1="561.95" x2="564.15" y1="195.04" y2="195.04" stroke="#2b2b2b" stroke-width="1.1"/>
<text transform="translate(560.95,199.39) rotate(0.03)" font-size="15.5" text-anchor="end">10</text>
<line x1="562.75" x2="564.15" y1="186.98" y2="186.98" stroke="#2b2b2b" stroke-width="0.7"/>
<line x1="561.95" x2="564.15" y1="178.92" y2="178.92" stroke="#2b2b2b" stroke-width="1.1"/>
<text transform="translate(560.95,183.27) rotate(0.03)" font-size="15.5" text-anchor="end">15</text>
<line x1="562.75" x2="564.15" y1="170.86" y2="170.86" stroke="#2b2b2b" stroke-width="0.7"/>
<line x1="561.95" x2="564.15" y1="162.8" y2="162.8" stroke="#2b2b2b" stroke-width="1.1"/>
<text transform="translate(560.95,167.15) rotate(0.03)" font-size="15.5" text-anchor="end">20</text>
<line x1="562.75" x2="564.15" y1="154.74" y2="154.74" stroke="#2b2b2b" stroke-width="0.7"/>
<line x1="561.95" x2="564.15" y1="146.69" y2="146.69" stroke="#2b2b2b" stroke-width="1.1"/>
<text transform="translate(560.95,151.03) rotate(0.03)" font-size="15.5" text-anchor="end">25</text>
<line x1="562.75" x2="564.15" y1="138.63" y2="138.63" stroke="#2b2b2b" stroke-width="0.7"/>
<line x1="561.95" x2="564.15" y1="130.57" y2="130.57" stroke="#2b2b2b" stroke-width="1.1"/>
<text transform="translate(560.95,134.92) rotate(0.03)" font-size="15.5" text-anchor="end">30</text>
<line x1="576.18" x2="576.18" y1="227.27" y2="229.27" stroke="#2b2b2b" stroke-width="1.1"/>
<text transform="translate(576.38,242.17) rotate(0.03)" font-size="15.5" text-anchor="middle">T0</text>
<line x1="588.21" x2="588.21" y1="227.27" y2="228.47" stroke="#2b2b2b" stroke-width="0.8"/>
<line x1="600.24" x2="600.24" y1="227.27" y2="229.27" stroke="#2b2b2b" stroke-width="1.1"/>
<text transform="translate(600.44,242.17) rotate(0.03)" font-size="15.5" text-anchor="middle">T1</text>
<line x1="612.27" x2="612.27" y1="227.27" y2="228.47" stroke="#2b2b2b" stroke-width="0.8"/>
<line x1="624.3" x2="624.3" y1="227.27" y2="229.27" stroke="#2b2b2b" stroke-width="1.1"/>
<text transform="translate(624.5,242.17) rotate(0.03)" font-size="15.5" text-anchor="middle">T2</text>
<line x1="636.33" x2="636.33" y1="227.27" y2="228.47" stroke="#2b2b2b" stroke-width="0.8"/>
<line x1="648.36" x2="648.36" y1="227.27" y2="229.27" stroke="#2b2b2b" stroke-width="1.1"/>
<text transform="translate(648.56,242.17) rotate(0.03)" font-size="15.5" text-anchor="middle">T3</text>
<line x1="660.39" x2="660.39" y1="227.27" y2="228.47" stroke="#2b2b2b" stroke-width="0.8"/>
<line x1="672.42" x2="672.42" y1="227.27" y2="229.27" stroke="#2b2b2b" stroke-width="1.1"/>
<text transform="translate(672.62,242.17) rotate(0.03)" font-size="15.5" text-anchor="middle">T4</text>
<text transform="translate(626,138.7) rotate(0.03)" font-size="10.2" text-anchor="middle" fill="#1a1a1a" stroke="none">PG0031326</text>
<text transform="translate(576.18,221.4) rotate(0.03)" font-size="10" text-anchor="middle" fill="#1a1a1a" stroke="none">b</text>
<path d="M600.24 196.45V207M596.24 196.45H603.84M596.24 207H603.84" stroke="#0a0a0a" stroke-width="1.1" fill="none"/>
<text transform="translate(600.24,193.8) rotate(0.03)" font-size="10" text-anchor="middle" fill="#1a1a1a" stroke="none">ab</text>
<path d="M624.3 158.2V176.2M620.3 158.2H627.9M620.3 176.2H627.9" stroke="#0a0a0a" stroke-width="1.1" fill="none"/>
<text transform="translate(624.3,155.7) rotate(0.03)" font-size="10" text-anchor="middle" fill="#1a1a1a" stroke="none">a</text>
<path d="M648.36 171.1V184.4M644.36 171.1H651.96M644.36 184.4H651.96" stroke="#0a0a0a" stroke-width="1.1" fill="none"/>
<text transform="translate(648.36,168.6) rotate(0.03)" font-size="10" text-anchor="middle" fill="#1a1a1a" stroke="none">a</text>
<path d="M672.42 171.1V193.3M668.42 171.1H676.02M668.42 193.3H676.02" stroke="#0a0a0a" stroke-width="1.1" fill="none"/>
<text transform="translate(672.42,168.6) rotate(0.03)" font-size="10" text-anchor="middle" fill="#1a1a1a" stroke="none">a</text>
<rect x="50" y="254.65" width="120.3" height="96.55" fill="none" stroke="#2b2b2b" stroke-width="1.25"/>
<rect x="52.38" y="349.2" width="19.3" height="2.1" fill="#d00000" stroke="#100000" stroke-width="0.6"/>
<rect x="76.44" y="336.3" width="19.3" height="15" fill="#ff0000" stroke="#100000" stroke-width="0.6"/>
<rect x="100.5" y="290.9" width="19.3" height="60.4" fill="#ff0000" stroke="#100000" stroke-width="0.6"/>
<rect x="124.56" y="284.9" width="19.3" height="66.4" fill="#ff0000" stroke="#100000" stroke-width="0.6"/>
<rect x="148.62" y="275.4" width="19.3" height="75.9" fill="#ff0000" stroke="#100000" stroke-width="0.6"/>
<line x1="47.8" x2="50" y1="351.2" y2="351.2" stroke="#2b2b2b" stroke-width="1.1"/>
<text transform="translate(46.8,355.8) rotate(0.03)" font-size="15.5" text-anchor="end">0</text>
<line x1="48.6" x2="50" y1="341.55" y2="341.55" stroke="#2b2b2b" stroke-width="0.7"/>
<line x1="47.8" x2="50" y1="331.9" y2="331.9" stroke="#2b2b2b" stroke-width="1.1"/>
<text transform="translate(46.8,336.5) rotate(0.03)" font-size="15.5" text-anchor="end">10</text>
<line x1="48.6" x2="50" y1="322.25" y2="322.25" stroke="#2b2b2b" stroke-width="0.7"/>
<line x1="47.8" x2="50" y1="312.6" y2="312.6" stroke="#2b2b2b" stroke-width="1.1"/>
<text transform="translate(46.8,317.2) rotate(0.03)" font-size="15.5" text-anchor="end">20</text>
<line x1="48.6" x2="50" y1="302.95" y2="302.95" stroke="#2b2b2b" stroke-width="0.7"/>
<line x1="47.8" x2="50" y1="293.3" y2="293.3" stroke="#2b2b2b" stroke-width="1.1"/>
<text transform="translate(46.8,297.9) rotate(0.03)" font-size="15.5" text-anchor="end">30</text>
<line x1="48.6" x2="50" y1="283.65" y2="283.65" stroke="#2b2b2b" stroke-width="0.7"/>
<line x1="47.8" x2="50" y1="274" y2="274" stroke="#2b2b2b" stroke-width="1.1"/>
<text transform="translate(46.8,278.6) rotate(0.03)" font-size="15.5" text-anchor="end">40</text>
<line x1="48.6" x2="50" y1="264.35" y2="264.35" stroke="#2b2b2b" stroke-width="0.7"/>
<line x1="47.8" x2="50" y1="254.7" y2="254.7" stroke="#2b2b2b" stroke-width="1.1"/>
<text transform="translate(46.8,259.3) rotate(0.03)" font-size="15.5" text-anchor="end">50</text>
<line x1="62.03" x2="62.03" y1="351.2" y2="353.2" stroke="#2b2b2b" stroke-width="1.1"/>
<text transform="translate(62.23,366.1) rotate(0.03)" font-size="15.5" text-anchor="middle">T0</text>
<line x1="74.06" x2="74.06" y1="351.2" y2="352.4" stroke="#2b2b2b" stroke-width="0.8"/>
<line x1="86.09" x2="86.09" y1="351.2" y2="353.2" stroke="#2b2b2b" stroke-width="1.1"/>
<text transform="translate(86.29,366.1) rotate(0.03)" font-size="15.5" text-anchor="middle">T1</text>
<line x1="98.12" x2="98.12" y1="351.2" y2="352.4" stroke="#2b2b2b" stroke-width="0.8"/>
<line x1="110.15" x2="110.15" y1="351.2" y2="353.2" stroke="#2b2b2b" stroke-width="1.1"/>
<text transform="translate(110.35,366.1) rotate(0.03)" font-size="15.5" text-anchor="middle">T2</text>
<line x1="122.18" x2="122.18" y1="351.2" y2="352.4" stroke="#2b2b2b" stroke-width="0.8"/>
<line x1="134.21" x2="134.21" y1="351.2" y2="353.2" stroke="#2b2b2b" stroke-width="1.1"/>
<text transform="translate(134.41,366.1) rotate(0.03)" font-size="15.5" text-anchor="middle">T3</text>
<line x1="146.24" x2="146.24" y1="351.2" y2="352.4" stroke="#2b2b2b" stroke-width="0.8"/>
<line x1="158.27" x2="158.27" y1="351.2" y2="353.2" stroke="#2b2b2b" stroke-width="1.1"/>
<text transform="translate(158.47,366.1) rotate(0.03)" font-size="15.5" text-anchor="middle">T4</text>
<text transform="translate(107.75,263.6) rotate(0.03)" font-size="10.2" text-anchor="middle" fill="#1a1a1a" stroke="none">PG0031325</text>
<text transform="translate(62.03,347) rotate(0.03)" font-size="10" text-anchor="middle" fill="#1a1a1a" stroke="none">b</text>
<path d="M86.09 335.45V337.35M82.09 335.45H89.69M82.09 337.35H89.69" stroke="#0a0a0a" stroke-width="1.1" fill="none"/>
<text transform="translate(86.09,332.6) rotate(0.03)" font-size="10" text-anchor="middle" fill="#1a1a1a" stroke="none">b</text>
<path d="M110.15 278.2V303.5M106.15 278.2H113.75M106.15 303.5H113.75" stroke="#0a0a0a" stroke-width="1.1" fill="none"/>
<text transform="translate(110.15,275.6) rotate(0.03)" font-size="10" text-anchor="middle" fill="#1a1a1a" stroke="none">a</text>
<path d="M134.21 271.4V298.1M130.21 271.4H137.81M130.21 298.1H137.81" stroke="#0a0a0a" stroke-width="1.1" fill="none"/>
<text transform="translate(134.21,268.9) rotate(0.03)" font-size="10" text-anchor="middle" fill="#1a1a1a" stroke="none">a</text>
<path d="M158.27 269.5V281.1M154.27 269.5H161.87M154.27 281.1H161.87" stroke="#0a0a0a" stroke-width="1.1" fill="none"/>
<text transform="translate(158.27,267.4) rotate(0.03)" font-size="10" text-anchor="middle" fill="#1a1a1a" stroke="none">a</text>
<rect x="224" y="254.65" width="120.3" height="96.55" fill="none" stroke="#2b2b2b" stroke-width="1.25"/>
<rect x="226.38" y="348.1" width="19.3" height="3.2" fill="#ee0000" stroke="#100000" stroke-width="0.6"/>
<rect x="250.44" y="326" width="19.3" height="25.3" fill="#ff0000" stroke="#100000" stroke-width="0.6"/>
<rect x="274.5" y="291.3" width="19.3" height="60" fill="#ff0000" stroke="#100000" stroke-width="0.6"/>
<rect x="298.56" y="302.1" width="19.3" height="49.2" fill="#ff0000" stroke="#100000" stroke-width="0.6"/>
<rect x="322.62" y="306.5" width="19.3" height="44.8" fill="#ff0000" stroke="#100000" stroke-width="0.6"/>
<line x1="221.8" x2="224" y1="351.2" y2="351.2" stroke="#2b2b2b" stroke-width="1.1"/>
<text transform="translate(220.8,355.8) rotate(0.03)" font-size="15.5" text-anchor="end">0</text>
<line x1="222.6" x2="224" y1="343.16" y2="343.16" stroke="#2b2b2b" stroke-width="0.7"/>
<line x1="221.8" x2="224" y1="335.12" y2="335.12" stroke="#2b2b2b" stroke-width="1.1"/>
<text transform="translate(220.8,339.72) rotate(0.03)" font-size="15.5" text-anchor="end">5</text>
<line x1="222.6" x2="224" y1="327.08" y2="327.08" stroke="#2b2b2b" stroke-width="0.7"/>
<line x1="221.8" x2="224" y1="319.03" y2="319.03" stroke="#2b2b2b" stroke-width="1.1"/>
<text transform="translate(220.8,323.63) rotate(0.03)" font-size="15.5" text-anchor="end">10</text>
<line x1="222.6" x2="224" y1="310.99" y2="310.99" stroke="#2b2b2b" stroke-width="0.7"/>
<line x1="221.8" x2="224" y1="302.95" y2="302.95" stroke="#2b2b2b" stroke-width="1.1"/>
<text transform="translate(220.8,307.55) rotate(0.03)" font-size="15.5" text-anchor="end">15</text>
<line x1="222.6" x2="224" y1="294.91" y2="294.91" stroke="#2b2b2b" stroke-width="0.7"/>
<line x1="221.8" x2="224" y1="286.87" y2="286.87" stroke="#2b2b2b" stroke-width="1.1"/>
<text transform="translate(220.8,291.47) rotate(0.03)" font-size="15.5" text-anchor="end">20</text>
<line x1="222.6" x2="224" y1="278.83" y2="278.83" stroke="#2b2b2b" stroke-width="0.7"/>
<line x1="221.8" x2="224" y1="270.78" y2="270.78" stroke="#2b2b2b" stroke-width="1.1"/>
<text transform="translate(220.8,275.38) rotate(0.03)" font-size="15.5" text-anchor="end">25</text>
<line x1="222.6" x2="224" y1="262.74" y2="262.74" stroke="#2b2b2b" stroke-width="0.7"/>
<line x1="221.8" x2="224" y1="254.7" y2="254.7" stroke="#2b2b2b" stroke-width="1.1"/>
<text transform="translate(220.8,259.3) rotate(0.03)" font-size="15.5" text-anchor="end">30</text>
<line x1="236.03" x2="236.03" y1="351.2" y2="353.2" stroke="#2b2b2b" stroke-width="1.1"/>
<text transform="translate(236.23,366.1) rotate(0.03)" font-size="15.5" text-anchor="middle">T0</text>
<line x1="248.06" x2="248.06" y1="351.2" y2="352.4" stroke="#2b2b2b" stroke-width="0.8"/>
<line x1="260.09" x2="260.09" y1="351.2" y2="353.2" stroke="#2b2b2b" stroke-width="1.1"/>
<text transform="translate(260.29,366.1) rotate(0.03)" font-size="15.5" text-anchor="middle">T1</text>
<line x1="272.12" x2="272.12" y1="351.2" y2="352.4" stroke="#2b2b2b" stroke-width="0.8"/>
<line x1="284.15" x2="284.15" y1="351.2" y2="353.2" stroke="#2b2b2b" stroke-width="1.1"/>
<text transform="translate(284.35,366.1) rotate(0.03)" font-size="15.5" text-anchor="middle">T2</text>
<line x1="296.18" x2="296.18" y1="351.2" y2="352.4" stroke="#2b2b2b" stroke-width="0.8"/>
<line x1="308.21" x2="308.21" y1="351.2" y2="353.2" stroke="#2b2b2b" stroke-width="1.1"/>
<text transform="translate(308.41,366.1) rotate(0.03)" font-size="15.5" text-anchor="middle">T3</text>
<line x1="320.24" x2="320.24" y1="351.2" y2="352.4" stroke="#2b2b2b" stroke-width="0.8"/>
<line x1="332.27" x2="332.27" y1="351.2" y2="353.2" stroke="#2b2b2b" stroke-width="1.1"/>
<text transform="translate(332.47,366.1) rotate(0.03)" font-size="15.5" text-anchor="middle">T4</text>
<text transform="translate(284.05,262.7) rotate(0.03)" font-size="10.2" text-anchor="middle" fill="#1a1a1a" stroke="none">PG0011640</text>
<text transform="translate(236.03,345.4) rotate(0.03)" font-size="10" text-anchor="middle" fill="#1a1a1a" stroke="none">c</text>
<path d="M260.09 320.45V331.4M256.09 320.45H263.69M256.09 331.4H263.69" stroke="#0a0a0a" stroke-width="1.1" fill="none"/>
<text transform="translate(260.09,317.8) rotate(0.03)" font-size="10" text-anchor="middle" fill="#1a1a1a" stroke="none">bc</text>
<path d="M284.15 282.4V300.2M280.15 282.4H287.75M280.15 300.2H287.75" stroke="#0a0a0a" stroke-width="1.1" fill="none"/>
<text transform="translate(284.15,279.7) rotate(0.03)" font-size="10" text-anchor="middle" fill="#1a1a1a" stroke="none">a</text>
<path d="M308.21 295.1V308.6M304.21 295.1H311.81M304.21 308.6H311.81" stroke="#0a0a0a" stroke-width="1.1" fill="none"/>
<text transform="translate(308.21,292.6) rotate(0.03)" font-size="10" text-anchor="middle" fill="#1a1a1a" stroke="none">ab</text>
<path d="M332.27 295.1V317.7M328.27 295.1H335.87M328.27 317.7H335.87" stroke="#0a0a0a" stroke-width="1.1" fill="none"/>
<text transform="translate(332.27,292.6) rotate(0.03)" font-size="10" text-anchor="middle" fill="#1a1a1a" stroke="none">ab</text>
<rect x="390.3" y="254.65" width="120.3" height="96.55" fill="none" stroke="#2b2b2b" stroke-width="1.25"/>
<rect x="392.68" y="349.2" width="19.3" height="2.1" fill="#d00000" stroke="#100000" stroke-width="0.6"/>
<rect x="416.74" y="336.2" width="19.3" height="15.1" fill="#ff0000" stroke="#100000" stroke-width="0.6"/>
<rect x="440.8" y="322" width="19.3" height="29.3" fill="#ff0000" stroke="#100000" stroke-width="0.6"/>
<rect x="464.86" y="292.3" width="19.3" height="59" fill="#ff0000" stroke="#100000" stroke-width="0.6"/>
<rect x="488.92" y="280.3" width="19.3" height="71" fill="#ff0000" stroke="#100000" stroke-width="0.6"/>
<line x1="388.1" x2="390.3" y1="351.2" y2="351.2" stroke="#2b2b2b" stroke-width="1.1"/>
<text transform="translate(387.1,355.65) rotate(0.03)" font-size="15.5" text-anchor="end">0</text>
<line x1="388.9" x2="390.3" y1="342.45" y2="342.45" stroke="#2b2b2b" stroke-width="0.7"/>
<line x1="388.1" x2="390.3" y1="333.7" y2="333.7" stroke="#2b2b2b" stroke-width="1.1"/>
<text transform="translate(387.1,338.15) rotate(0.03)" font-size="15.5" text-anchor="end">10</text>
<line x1="388.9" x2="390.3" y1="324.95" y2="324.95" stroke="#2b2b2b" stroke-width="0.7"/>
<line x1="388.1" x2="390.3" y1="316.2" y2="316.2" stroke="#2b2b2b" stroke-width="1.1"/>
<text transform="translate(387.1,320.65) rotate(0.03)" font-size="15.5" text-anchor="end">20</text>
<line x1="388.9" x2="390.3" y1="307.45" y2="307.45" stroke="#2b2b2b" stroke-width="0.7"/>
<line x1="388.1" x2="390.3" y1="298.7" y2="298.7" stroke="#2b2b2b" stroke-width="1.1"/>
<text transform="translate(387.1,303.15) rotate(0.03)" font-size="15.5" text-anchor="end">30</text>
<line x1="388.9" x2="390.3" y1="289.95" y2="289.95" stroke="#2b2b2b" stroke-width="0.7"/>
<line x1="388.1" x2="390.3" y1="281.2" y2="281.2" stroke="#2b2b2b" stroke-width="1.1"/>
<text transform="translate(387.1,285.65) rotate(0.03)" font-size="15.5" text-anchor="end">40</text>
<line x1="388.9" x2="390.3" y1="272.45" y2="272.45" stroke="#2b2b2b" stroke-width="0.7"/>
<line x1="388.1" x2="390.3" y1="263.7" y2="263.7" stroke="#2b2b2b" stroke-width="1.1"/>
<text transform="translate(387.1,268.15) rotate(0.03)" font-size="15.5" text-anchor="end">50</text>
<line x1="402.33" x2="402.33" y1="351.2" y2="353.2" stroke="#2b2b2b" stroke-width="1.1"/>
<text transform="translate(402.53,366.1) rotate(0.03)" font-size="15.5" text-anchor="middle">T0</text>
<line x1="414.36" x2="414.36" y1="351.2" y2="352.4" stroke="#2b2b2b" stroke-width="0.8"/>
<line x1="426.39" x2="426.39" y1="351.2" y2="353.2" stroke="#2b2b2b" stroke-width="1.1"/>
<text transform="translate(426.59,366.1) rotate(0.03)" font-size="15.5" text-anchor="middle">T1</text>
<line x1="438.42" x2="438.42" y1="351.2" y2="352.4" stroke="#2b2b2b" stroke-width="0.8"/>
<line x1="450.45" x2="450.45" y1="351.2" y2="353.2" stroke="#2b2b2b" stroke-width="1.1"/>
<text transform="translate(450.65,366.1) rotate(0.03)" font-size="15.5" text-anchor="middle">T2</text>
<line x1="462.48" x2="462.48" y1="351.2" y2="352.4" stroke="#2b2b2b" stroke-width="0.8"/>
<line x1="474.51" x2="474.51" y1="351.2" y2="353.2" stroke="#2b2b2b" stroke-width="1.1"/>
<text transform="translate(474.71,366.1) rotate(0.03)" font-size="15.5" text-anchor="middle">T3</text>
<line x1="486.54" x2="486.54" y1="351.2" y2="352.4" stroke="#2b2b2b" stroke-width="0.8"/>
<line x1="498.57" x2="498.57" y1="351.2" y2="353.2" stroke="#2b2b2b" stroke-width="1.1"/>
<text transform="translate(498.77,366.1) rotate(0.03)" font-size="15.5" text-anchor="middle">T4</text>
<text transform="translate(445.45,262.7) rotate(0.03)" font-size="10.2" text-anchor="middle" fill="#1a1a1a" stroke="none">PG0015106</text>
<text transform="translate(402.33,347) rotate(0.03)" font-size="10" text-anchor="middle" fill="#1a1a1a" stroke="none">b</text>
<path d="M426.39 333.85V338.3M422.39 333.85H429.99M422.39 338.3H429.99" stroke="#0a0a0a" stroke-width="1.1" fill="none"/>
<text transform="translate(426.39,331.2) rotate(0.03)" font-size="10" text-anchor="middle" fill="#1a1a1a" stroke="none">b</text>
<path d="M450.45 312.4V331.3M446.45 312.4H454.05M446.45 331.3H454.05" stroke="#0a0a0a" stroke-width="1.1" fill="none"/>
<text transform="translate(450.45,310.3) rotate(0.03)" font-size="10" text-anchor="middle" fill="#1a1a1a" stroke="none">b</text>
<path d="M474.51 281.3V303.3M470.51 281.3H478.11M470.51 303.3H478.11" stroke="#0a0a0a" stroke-width="1.1" fill="none"/>
<text transform="translate(474.51,278.8) rotate(0.03)" font-size="10" text-anchor="middle" fill="#1a1a1a" stroke="none">a</text>
<path d="M498.57 266.1V294.5M494.57 266.1H502.17M494.57 294.5H502.17" stroke="#0a0a0a" stroke-width="1.1" fill="none"/>
<text transform="translate(498.57,263.6) rotate(0.03)" font-size="10" text-anchor="middle" fill="#1a1a1a" stroke="none">a</text>
<rect x="564.15" y="254.65" width="120.3" height="96.55" fill="none" stroke="#2b2b2b" stroke-width="1.25"/>
<rect x="566.53" y="349.4" width="19.3" height="1.9" fill="#d00000" stroke="#100000" stroke-width="0.6"/>
<rect x="590.59" y="341.25" width="19.3" height="10.05" fill="#ff0000" stroke="#100000" stroke-width="0.6"/>
<rect x="614.65" y="289.4" width="19.3" height="61.9" fill="#ff0000" stroke="#100000" stroke-width="0.6"/>
<rect x="638.71" y="293.8" width="19.3" height="57.5" fill="#ff0000" stroke="#100000" stroke-width="0.6"/>
<rect x="662.77" y="277.1" width="19.3" height="74.2" fill="#ff0000" stroke="#100000" stroke-width="0.6"/>
<line x1="561.95" x2="564.15" y1="351.2" y2="351.2" stroke="#2b2b2b" stroke-width="1.1"/>
<text transform="translate(560.95,355.65) rotate(0.03)" font-size="15.5" text-anchor="end">0</text>
<line x1="562.75" x2="564.15" y1="342.45" y2="342.45" stroke="#2b2b2b" stroke-width="0.7"/>
<line x1="561.95" x2="564.15" y1="333.7" y2="333.7" stroke="#2b2b2b" stroke-width="1.1"/>
<text transform="translate(560.95,338.15) rotate(0.03)" font-size="15.5" text-anchor="end">10</text>
<line x1="562.75" x2="564.15" y1="324.95" y2="324.95" stroke="#2b2b2b" stroke-width="0.7"/>
<line x1="561.95" x2="564.15" y1="316.2" y2="316.2" stroke="#2b2b2b" stroke-width="1.1"/>
<text transform="translate(560.95,320.65) rotate(0.03)" font-size="15.5" text-anchor="end">20</text>
<line x1="562.75" x2="564.15" y1="307.45" y2="307.45" stroke="#2b2b2b" stroke-width="0.7"/>
<line x1="561.95" x2="564.15" y1="298.7" y2="298.7" stroke="#2b2b2b" stroke-width="1.1"/>
<text transform="translate(560.95,303.15) rotate(0.03)" font-size="15.5" text-anchor="end">30</text>
<line x1="562.75" x2="564.15" y1="289.95" y2="289.95" stroke="#2b2b2b" stroke-width="0.7"/>
<line x1="561.95" x2="564.15" y1="281.2" y2="281.2" stroke="#2b2b2b" stroke-width="1.1"/>
<text transform="translate(560.95,285.65) rotate(0.03)" font-size="15.5" text-anchor="end">40</text>
<line x1="562.75" x2="564.15" y1="272.45" y2="272.45" stroke="#2b2b2b" stroke-width="0.7"/>
<line x1="561.95" x2="564.15" y1="263.7" y2="263.7" stroke="#2b2b2b" stroke-width="1.1"/>
<text transform="translate(560.95,268.15) rotate(0.03)" font-size="15.5" text-anchor="end">50</text>
<line x1="576.18" x2="576.18" y1="351.2" y2="353.2" stroke="#2b2b2b" stroke-width="1.1"/>
<text transform="translate(576.38,366.1) rotate(0.03)" font-size="15.5" text-anchor="middle">T0</text>
<line x1="588.21" x2="588.21" y1="351.2" y2="352.4" stroke="#2b2b2b" stroke-width="0.8"/>
<line x1="600.24" x2="600.24" y1="351.2" y2="353.2" stroke="#2b2b2b" stroke-width="1.1"/>
<text transform="translate(600.44,366.1) rotate(0.03)" font-size="15.5" text-anchor="middle">T1</text>
<line x1="612.27" x2="612.27" y1="351.2" y2="352.4" stroke="#2b2b2b" stroke-width="0.8"/>
<line x1="624.3" x2="624.3" y1="351.2" y2="353.2" stroke="#2b2b2b" stroke-width="1.1"/>
<text transform="translate(624.5,366.1) rotate(0.03)" font-size="15.5" text-anchor="middle">T2</text>
<line x1="636.33" x2="636.33" y1="351.2" y2="352.4" stroke="#2b2b2b" stroke-width="0.8"/>
<line x1="648.36" x2="648.36" y1="351.2" y2="353.2" stroke="#2b2b2b" stroke-width="1.1"/>
<text transform="translate(648.56,366.1) rotate(0.03)" font-size="15.5" text-anchor="middle">T3</text>
<line x1="660.39" x2="660.39" y1="351.2" y2="352.4" stroke="#2b2b2b" stroke-width="0.8"/>
<line x1="672.42" x2="672.42" y1="351.2" y2="353.2" stroke="#2b2b2b" stroke-width="1.1"/>
<text transform="translate(672.62,366.1) rotate(0.03)" font-size="15.5" text-anchor="middle">T4</text>
<text transform="translate(624.15,263.8) rotate(0.03)" font-size="10.2" text-anchor="middle" fill="#1a1a1a" stroke="none">PG1025083</text>
<text transform="translate(576.18,346.6) rotate(0.03)" font-size="10" text-anchor="middle" fill="#1a1a1a" stroke="none">b</text>
<path d="M600.24 339.25V343.3M596.24 339.25H603.84M596.24 343.3H603.84" stroke="#0a0a0a" stroke-width="1.1" fill="none"/>
<text transform="translate(600.24,336.5) rotate(0.03)" font-size="10" text-anchor="middle" fill="#1a1a1a" stroke="none">b</text>
<path d="M624.3 283.2V295.9M620.3 283.2H627.9M620.3 295.9H627.9" stroke="#0a0a0a" stroke-width="1.1" fill="none"/>
<text transform="translate(624.3,280.7) rotate(0.03)" font-size="10" text-anchor="middle" fill="#1a1a1a" stroke="none">a</text>
<path d="M648.36 289.8V297.4M644.36 289.8H651.96M644.36 297.4H651.96" stroke="#0a0a0a" stroke-width="1.1" fill="none"/>
<text transform="translate(648.36,287.3) rotate(0.03)" font-size="10" text-anchor="middle" fill="#1a1a1a" stroke="none">a</text>
<path d="M672.42 264.6V289.4M668.42 264.6H676.02M668.42 289.4H676.02" stroke="#0a0a0a" stroke-width="1.1" fill="none"/>
<text transform="translate(672.42,261.9) rotate(0.03)" font-size="10" text-anchor="middle" fill="#1a1a1a" stroke="none">a</text>
<rect x="50" y="379" width="120.3" height="96.55" fill="none" stroke="#2b2b2b" stroke-width="1.25"/>
<rect x="52.38" y="473.4" width="19.3" height="2.25" fill="#d00000" stroke="#100000" stroke-width="0.6"/>
<rect x="76.44" y="414.2" width="19.3" height="61.45" fill="#ff0000" stroke="#100000" stroke-width="0.6"/>
<rect x="100.5" y="421.2" width="19.3" height="54.45" fill="#ff0000" stroke="#100000" stroke-width="0.6"/>
<rect x="124.56" y="449.8" width="19.3" height="25.85" fill="#ff0000" stroke="#100000" stroke-width="0.6"/>
<rect x="148.62" y="446.15" width="19.3" height="29.5" fill="#ff0000" stroke="#100000" stroke-width="0.6"/>
<line x1="47.8" x2="50" y1="475.55" y2="475.55" stroke="#2b2b2b" stroke-width="1.1"/>
<text transform="translate(46.8,479.45) rotate(0.03)" font-size="15.5" text-anchor="end">0</text>
<line x1="48.6" x2="50" y1="470.17" y2="470.17" stroke="#2b2b2b" stroke-width="0.7"/>
<line x1="47.8" x2="50" y1="464.8" y2="464.8" stroke="#2b2b2b" stroke-width="1.1"/>
<text transform="translate(46.8,468.69) rotate(0.03)" font-size="15.5" text-anchor="end">5</text>
<line x1="48.6" x2="50" y1="459.42" y2="459.42" stroke="#2b2b2b" stroke-width="0.7"/>
<line x1="47.8" x2="50" y1="454.04" y2="454.04" stroke="#2b2b2b" stroke-width="1.1"/>
<text transform="translate(46.8,457.94) rotate(0.03)" font-size="15.5" text-anchor="end">10</text>
<line x1="48.6" x2="50" y1="448.66" y2="448.66" stroke="#2b2b2b" stroke-width="0.7"/>
<line x1="47.8" x2="50" y1="443.29" y2="443.29" stroke="#2b2b2b" stroke-width="1.1"/>
<text transform="translate(46.8,447.19) rotate(0.03)" font-size="15.5" text-anchor="end">15</text>
<line x1="48.6" x2="50" y1="437.91" y2="437.91" stroke="#2b2b2b" stroke-width="0.7"/>
<line x1="47.8" x2="50" y1="432.53" y2="432.53" stroke="#2b2b2b" stroke-width="1.1"/>
<text transform="translate(46.8,436.43) rotate(0.03)" font-size="15.5" text-anchor="end">20</text>
<line x1="48.6" x2="50" y1="427.15" y2="427.15" stroke="#2b2b2b" stroke-width="0.7"/>
<line x1="47.8" x2="50" y1="421.77" y2="421.77" stroke="#2b2b2b" stroke-width="1.1"/>
<text transform="translate(46.8,425.67) rotate(0.03)" font-size="15.5" text-anchor="end">25</text>
<line x1="48.6" x2="50" y1="416.4" y2="416.4" stroke="#2b2b2b" stroke-width="0.7"/>
<line x1="47.8" x2="50" y1="411.02" y2="411.02" stroke="#2b2b2b" stroke-width="1.1"/>
<text transform="translate(46.8,414.92) rotate(0.03)" font-size="15.5" text-anchor="end">30</text>
<line x1="48.6" x2="50" y1="405.64" y2="405.64" stroke="#2b2b2b" stroke-width="0.7"/>
<line x1="47.8" x2="50" y1="400.26" y2="400.26" stroke="#2b2b2b" stroke-width="1.1"/>
<text transform="translate(46.8,404.16) rotate(0.03)" font-size="15.5" text-anchor="end">35</text>
<line x1="48.6" x2="50" y1="394.89" y2="394.89" stroke="#2b2b2b" stroke-width="0.7"/>
<line x1="47.8" x2="50" y1="389.51" y2="389.51" stroke="#2b2b2b" stroke-width="1.1"/>
<text transform="translate(46.8,393.41) rotate(0.03)" font-size="15.5" text-anchor="end">40</text>
<line x1="48.6" x2="50" y1="384.13" y2="384.13" stroke="#2b2b2b" stroke-width="0.7"/>
<line x1="47.8" x2="50" y1="378.75" y2="378.75" stroke="#2b2b2b" stroke-width="1.1"/>
<text transform="translate(46.8,382.65) rotate(0.03)" font-size="15.5" text-anchor="end">45</text>
<line x1="62.03" x2="62.03" y1="475.55" y2="477.55" stroke="#2b2b2b" stroke-width="1.1"/>
<text transform="translate(62.23,490.45) rotate(0.03)" font-size="15.5" text-anchor="middle">T0</text>
<line x1="74.06" x2="74.06" y1="475.55" y2="476.75" stroke="#2b2b2b" stroke-width="0.8"/>
<line x1="86.09" x2="86.09" y1="475.55" y2="477.55" stroke="#2b2b2b" stroke-width="1.1"/>
<text transform="translate(86.29,490.45) rotate(0.03)" font-size="15.5" text-anchor="middle">T1</text>
<line x1="98.12" x2="98.12" y1="475.55" y2="476.75" stroke="#2b2b2b" stroke-width="0.8"/>
<line x1="110.15" x2="110.15" y1="475.55" y2="477.55" stroke="#2b2b2b" stroke-width="1.1"/>
<text transform="translate(110.35,490.45) rotate(0.03)" font-size="15.5" text-anchor="middle">T2</text>
<line x1="122.18" x2="122.18" y1="475.55" y2="476.75" stroke="#2b2b2b" stroke-width="0.8"/>
<line x1="134.21" x2="134.21" y1="475.55" y2="477.55" stroke="#2b2b2b" stroke-width="1.1"/>
<text transform="translate(134.41,490.45) rotate(0.03)" font-size="15.5" text-anchor="middle">T3</text>
<line x1="146.24" x2="146.24" y1="475.55" y2="476.75" stroke="#2b2b2b" stroke-width="0.8"/>
<line x1="158.27" x2="158.27" y1="475.55" y2="477.55" stroke="#2b2b2b" stroke-width="1.1"/>
<text transform="translate(158.47,490.45) rotate(0.03)" font-size="15.5" text-anchor="middle">T4</text>
<text transform="translate(105.35,386.7) rotate(0.03)" font-size="10.2" text-anchor="middle" fill="#1a1a1a" stroke="none">PG0005062</text>
<text transform="translate(62.03,471) rotate(0.03)" font-size="10" text-anchor="middle" fill="#1a1a1a" stroke="none">c</text>
<path d="M86.09 403.4V424.2M82.09 403.4H89.69M82.09 424.2H89.69" stroke="#0a0a0a" stroke-width="1.1" fill="none"/>
<text transform="translate(86.09,401.1) rotate(0.03)" font-size="10" text-anchor="middle" fill="#1a1a1a" stroke="none">a</text>
<path d="M110.15 418.5V423.9M106.15 418.5H113.75M106.15 423.9H113.75" stroke="#0a0a0a" stroke-width="1.1" fill="none"/>
<text transform="translate(110.15,416.1) rotate(0.03)" font-size="10" text-anchor="middle" fill="#1a1a1a" stroke="none">a</text>
<path d="M134.21 448.9V450.8M130.21 448.9H137.81M130.21 450.8H137.81" stroke="#0a0a0a" stroke-width="1.1" fill="none"/>
<text transform="translate(134.21,446) rotate(0.03)" font-size="10" text-anchor="middle" fill="#1a1a1a" stroke="none">b</text>
<path d="M158.27 444.7V447.4M154.27 444.7H161.87M154.27 447.4H161.87" stroke="#0a0a0a" stroke-width="1.1" fill="none"/>
<text transform="translate(158.27,442.2) rotate(0.03)" font-size="10" text-anchor="middle" fill="#1a1a1a" stroke="none">b</text>
<rect x="224" y="379" width="120.3" height="96.55" fill="none" stroke="#2b2b2b" stroke-width="1.25"/>
<rect x="226.38" y="471.2" width="19.3" height="4.45" fill="#ff0000" stroke="#100000" stroke-width="0.6"/>
<rect x="250.44" y="406.4" width="19.3" height="69.25" fill="#ff0000" stroke="#100000" stroke-width="0.6"/>
<rect x="274.5" y="421.8" width="19.3" height="53.85" fill="#ff0000" stroke="#100000" stroke-width="0.6"/>
<rect x="298.56" y="446.25" width="19.3" height="29.4" fill="#ff0000" stroke="#100000" stroke-width="0.6"/>
<rect x="322.62" y="441.15" width="19.3" height="34.5" fill="#ff0000" stroke="#100000" stroke-width="0.6"/>
<line x1="221.8" x2="224" y1="475.55" y2="475.55" stroke="#2b2b2b" stroke-width="1.1"/>
<text transform="translate(220.8,479.8) rotate(0.03)" font-size="15.5" text-anchor="end">0</text>
<line x1="222.6" x2="224" y1="468.98" y2="468.98" stroke="#2b2b2b" stroke-width="0.7"/>
<line x1="221.8" x2="224" y1="462.4" y2="462.4" stroke="#2b2b2b" stroke-width="1.1"/>
<text transform="translate(220.8,466.65) rotate(0.03)" font-size="15.5" text-anchor="end">3</text>
<line x1="222.6" x2="224" y1="455.83" y2="455.83" stroke="#2b2b2b" stroke-width="0.7"/>
<line x1="221.8" x2="224" y1="449.25" y2="449.25" stroke="#2b2b2b" stroke-width="1.1"/>
<text transform="translate(220.8,453.5) rotate(0.03)" font-size="15.5" text-anchor="end">6</text>
<line x1="222.6" x2="224" y1="442.68" y2="442.68" stroke="#2b2b2b" stroke-width="0.7"/>
<line x1="221.8" x2="224" y1="436.1" y2="436.1" stroke="#2b2b2b" stroke-width="1.1"/>
<text transform="translate(220.8,440.35) rotate(0.03)" font-size="15.5" text-anchor="end">9</text>
<line x1="222.6" x2="224" y1="429.53" y2="429.53" stroke="#2b2b2b" stroke-width="0.7"/>
<line x1="221.8" x2="224" y1="422.95" y2="422.95" stroke="#2b2b2b" stroke-width="1.1"/>
<text transform="translate(220.8,427.2) rotate(0.03)" font-size="15.5" text-anchor="end">12</text>
<line x1="222.6" x2="224" y1="416.38" y2="416.38" stroke="#2b2b2b" stroke-width="0.7"/>
<line x1="221.8" x2="224" y1="409.8" y2="409.8" stroke="#2b2b2b" stroke-width="1.1"/>
<text transform="translate(220.8,414.05) rotate(0.03)" font-size="15.5" text-anchor="end">15</text>
<line x1="222.6" x2="224" y1="403.23" y2="403.23" stroke="#2b2b2b" stroke-width="0.7"/>
<line x1="221.8" x2="224" y1="396.65" y2="396.65" stroke="#2b2b2b" stroke-width="1.1"/>
<text transform="translate(220.8,400.9) rotate(0.03)" font-size="15.5" text-anchor="end">18</text>
<line x1="222.6" x2="224" y1="390.07" y2="390.07" stroke="#2b2b2b" stroke-width="0.7"/>
<line x1="221.8" x2="224" y1="383.5" y2="383.5" stroke="#2b2b2b" stroke-width="1.1"/>
<text transform="translate(220.8,387.75) rotate(0.03)" font-size="15.5" text-anchor="end">21</text>
<line x1="236.03" x2="236.03" y1="475.55" y2="477.55" stroke="#2b2b2b" stroke-width="1.1"/>
<text transform="translate(236.23,490.45) rotate(0.03)" font-size="15.5" text-anchor="middle">T0</text>
<line x1="248.06" x2="248.06" y1="475.55" y2="476.75" stroke="#2b2b2b" stroke-width="0.8"/>
<line x1="260.09" x2="260.09" y1="475.55" y2="477.55" stroke="#2b2b2b" stroke-width="1.1"/>
<text transform="translate(260.29,490.45) rotate(0.03)" font-size="15.5" text-anchor="middle">T1</text>
<line x1="272.12" x2="272.12" y1="475.55" y2="476.75" stroke="#2b2b2b" stroke-width="0.8"/>
<line x1="284.15" x2="284.15" y1="475.55" y2="477.55" stroke="#2b2b2b" stroke-width="1.1"/>
<text transform="translate(284.35,490.45) rotate(0.03)" font-size="15.5" text-anchor="middle">T2</text>
<line x1="296.18" x2="296.18" y1="475.55" y2="476.75" stroke="#2b2b2b" stroke-width="0.8"/>
<line x1="308.21" x2="308.21" y1="475.55" y2="477.55" stroke="#2b2b2b" stroke-width="1.1"/>
<text transform="translate(308.41,490.45) rotate(0.03)" font-size="15.5" text-anchor="middle">T3</text>
<line x1="320.24" x2="320.24" y1="475.55" y2="476.75" stroke="#2b2b2b" stroke-width="0.8"/>
<line x1="332.27" x2="332.27" y1="475.55" y2="477.55" stroke="#2b2b2b" stroke-width="1.1"/>
<text transform="translate(332.47,490.45) rotate(0.03)" font-size="15.5" text-anchor="middle">T4</text>
<text transform="translate(284.05,387.2) rotate(0.03)" font-size="10.2" text-anchor="middle" fill="#1a1a1a" stroke="none">PG0018688</text>
<text transform="translate(236.03,468.5) rotate(0.03)" font-size="10" text-anchor="middle" fill="#1a1a1a" stroke="none">d</text>
<path d="M260.09 398.2V414.4M256.09 398.2H263.69M256.09 414.4H263.69" stroke="#0a0a0a" stroke-width="1.1" fill="none"/>
<text transform="translate(260.09,395.8) rotate(0.03)" font-size="10" text-anchor="middle" fill="#1a1a1a" stroke="none">a</text>
<path d="M284.15 413.4V429.5M280.15 413.4H287.75M280.15 429.5H287.75" stroke="#0a0a0a" stroke-width="1.1" fill="none"/>
<text transform="translate(284.15,411) rotate(0.03)" font-size="10" text-anchor="middle" fill="#1a1a1a" stroke="none">ab</text>
<path d="M308.21 441V451.2M304.21 441H311.81M304.21 451.2H311.81" stroke="#0a0a0a" stroke-width="1.1" fill="none"/>
<text transform="translate(308.21,438.5) rotate(0.03)" font-size="10" text-anchor="middle" fill="#1a1a1a" stroke="none">c</text>
<path d="M332.27 434.15V448.15M328.27 434.15H335.87M328.27 448.15H335.87" stroke="#0a0a0a" stroke-width="1.1" fill="none"/>
<text transform="translate(332.27,431.35) rotate(0.03)" font-size="10" text-anchor="middle" fill="#1a1a1a" stroke="none">bc</text>
<rect x="390.3" y="379" width="120.3" height="96.55" fill="none" stroke="#2b2b2b" stroke-width="1.25"/>
<rect x="392.68" y="473.8" width="19.3" height="1.85" fill="#d00000" stroke="#100000" stroke-width="0.6"/>
<rect x="416.74" y="460.15" width="19.3" height="15.5" fill="#ff0000" stroke="#100000" stroke-width="0.6"/>
<rect x="440.8" y="418.9" width="19.3" height="56.75" fill="#ff0000" stroke="#100000" stroke-width="0.6"/>
<rect x="464.86" y="424.8" width="19.3" height="50.85" fill="#ff0000" stroke="#100000" stroke-width="0.6"/>
<rect x="488.92" y="438.85" width="19.3" height="36.8" fill="#ff0000" stroke="#100000" stroke-width="0.6"/>
<line x1="388.1" x2="390.3" y1="475.55" y2="475.55" stroke="#2b2b2b" stroke-width="1.1"/>
<text transform="translate(387.1,479.52) rotate(0.03)" font-size="15.5" text-anchor="end">0</text>
<line x1="388.9" x2="390.3" y1="470.71" y2="470.71" stroke="#2b2b2b" stroke-width="0.7"/>
<line x1="388.1" x2="390.3" y1="465.87" y2="465.87" stroke="#2b2b2b" stroke-width="1.1"/>
<text transform="translate(387.1,469.84) rotate(0.03)" font-size="15.5" text-anchor="end">5</text>
<line x1="388.9" x2="390.3" y1="461.03" y2="461.03" stroke="#2b2b2b" stroke-width="0.7"/>
<line x1="388.1" x2="390.3" y1="456.19" y2="456.19" stroke="#2b2b2b" stroke-width="1.1"/>
<text transform="translate(387.1,460.16) rotate(0.03)" font-size="15.5" text-anchor="end">10</text>
<line x1="388.9" x2="390.3" y1="451.35" y2="451.35" stroke="#2b2b2b" stroke-width="0.7"/>
<line x1="388.1" x2="390.3" y1="446.51" y2="446.51" stroke="#2b2b2b" stroke-width="1.1"/>
<text transform="translate(387.1,450.48) rotate(0.03)" font-size="15.5" text-anchor="end">15</text>
<line x1="388.9" x2="390.3" y1="441.67" y2="441.67" stroke="#2b2b2b" stroke-width="0.7"/>
<line x1="388.1" x2="390.3" y1="436.83" y2="436.83" stroke="#2b2b2b" stroke-width="1.1"/>
<text transform="translate(387.1,440.8) rotate(0.03)" font-size="15.5" text-anchor="end">20</text>
<line x1="388.9" x2="390.3" y1="431.99" y2="431.99" stroke="#2b2b2b" stroke-width="0.7"/>
<line x1="388.1" x2="390.3" y1="427.15" y2="427.15" stroke="#2b2b2b" stroke-width="1.1"/>
<text transform="translate(387.1,431.12) rotate(0.03)" font-size="15.5" text-anchor="end">25</text>
<line x1="388.9" x2="390.3" y1="422.31" y2="422.31" stroke="#2b2b2b" stroke-width="0.7"/>
<line x1="388.1" x2="390.3" y1="417.47" y2="417.47" stroke="#2b2b2b" stroke-width="1.1"/>
<text transform="translate(387.1,421.44) rotate(0.03)" font-size="15.5" text-anchor="end">30</text>
<line x1="388.9" x2="390.3" y1="412.63" y2="412.63" stroke="#2b2b2b" stroke-width="0.7"/>
<line x1="388.1" x2="390.3" y1="407.79" y2="407.79" stroke="#2b2b2b" stroke-width="1.1"/>
<text transform="translate(387.1,411.76) rotate(0.03)" font-size="15.5" text-anchor="end">35</text>
<line x1="388.9" x2="390.3" y1="402.95" y2="402.95" stroke="#2b2b2b" stroke-width="0.7"/>
<line x1="388.1" x2="390.3" y1="398.11" y2="398.11" stroke="#2b2b2b" stroke-width="1.1"/>
<text transform="translate(387.1,402.08) rotate(0.03)" font-size="15.5" text-anchor="end">40</text>
<line x1="388.9" x2="390.3" y1="393.27" y2="393.27" stroke="#2b2b2b" stroke-width="0.7"/>
<line x1="388.1" x2="390.3" y1="388.43" y2="388.43" stroke="#2b2b2b" stroke-width="1.1"/>
<text transform="translate(387.1,392.4) rotate(0.03)" font-size="15.5" text-anchor="end">45</text>
<line x1="388.9" x2="390.3" y1="383.59" y2="383.59" stroke="#2b2b2b" stroke-width="0.7"/>
<line x1="388.1" x2="390.3" y1="378.75" y2="378.75" stroke="#2b2b2b" stroke-width="1.1"/>
<text transform="translate(387.1,382.72) rotate(0.03)" font-size="15.5" text-anchor="end">50</text>
<line x1="402.33" x2="402.33" y1="475.55" y2="477.55" stroke="#2b2b2b" stroke-width="1.1"/>
<text transform="translate(402.53,490.45) rotate(0.03)" font-size="15.5" text-anchor="middle">T0</text>
<line x1="414.36" x2="414.36" y1="475.55" y2="476.75" stroke="#2b2b2b" stroke-width="0.8"/>
<line x1="426.39" x2="426.39" y1="475.55" y2="477.55" stroke="#2b2b2b" stroke-width="1.1"/>
<text transform="translate(426.59,490.45) rotate(0.03)" font-size="15.5" text-anchor="middle">T1</text>
<line x1="438.42" x2="438.42" y1="475.55" y2="476.75" stroke="#2b2b2b" stroke-width="0.8"/>
<line x1="450.45" x2="450.45" y1="475.55" y2="477.55" stroke="#2b2b2b" stroke-width="1.1"/>
<text transform="translate(450.65,490.45) rotate(0.03)" font-size="15.5" text-anchor="middle">T2</text>
<line x1="462.48" x2="462.48" y1="475.55" y2="476.75" stroke="#2b2b2b" stroke-width="0.8"/>
<line x1="474.51" x2="474.51" y1="475.55" y2="477.55" stroke="#2b2b2b" stroke-width="1.1"/>
<text transform="translate(474.71,490.45) rotate(0.03)" font-size="15.5" text-anchor="middle">T3</text>
<line x1="486.54" x2="486.54" y1="475.55" y2="476.75" stroke="#2b2b2b" stroke-width="0.8"/>
<line x1="498.57" x2="498.57" y1="475.55" y2="477.55" stroke="#2b2b2b" stroke-width="1.1"/>
<text transform="translate(498.77,490.45) rotate(0.03)" font-size="15.5" text-anchor="middle">T4</text>
<text transform="translate(450.75,387.2) rotate(0.03)" font-size="10.2" text-anchor="middle" fill="#1a1a1a" stroke="none">PG002387</text>
<text transform="translate(402.33,471.2) rotate(0.03)" font-size="10" text-anchor="middle" fill="#1a1a1a" stroke="none">b</text>
<path d="M426.39 456.25V463.45M422.39 456.25H429.99M422.39 463.45H429.99" stroke="#0a0a0a" stroke-width="1.1" fill="none"/>
<text transform="translate(426.39,453.65) rotate(0.03)" font-size="10" text-anchor="middle" fill="#1a1a1a" stroke="none">b</text>
<path d="M450.45 411.3V426.5M446.45 411.3H454.05M446.45 426.5H454.05" stroke="#0a0a0a" stroke-width="1.1" fill="none"/>
<text transform="translate(450.45,408.7) rotate(0.03)" font-size="10" text-anchor="middle" fill="#1a1a1a" stroke="none">a</text>
<path d="M474.51 419.1V430.3M470.51 419.1H478.11M470.51 430.3H478.11" stroke="#0a0a0a" stroke-width="1.1" fill="none"/>
<text transform="translate(474.51,416.6) rotate(0.03)" font-size="10" text-anchor="middle" fill="#1a1a1a" stroke="none">a</text>
<path d="M498.57 434.6V442.45M494.57 434.6H502.17M494.57 442.45H502.17" stroke="#0a0a0a" stroke-width="1.1" fill="none"/>
<text transform="translate(498.57,432.15) rotate(0.03)" font-size="10" text-anchor="middle" fill="#1a1a1a" stroke="none">a</text>
<rect x="564.15" y="379" width="120.3" height="96.55" fill="none" stroke="#2b2b2b" stroke-width="1.25"/>
<rect x="566.53" y="474.8" width="19.3" height="0.85" fill="#5a0000" stroke="#100000" stroke-width="0.6"/>
<rect x="590.59" y="470.6" width="19.3" height="5.05" fill="#ff0000" stroke="#100000" stroke-width="0.6"/>
<rect x="614.65" y="406.4" width="19.3" height="69.25" fill="#ff0000" stroke="#100000" stroke-width="0.6"/>
<rect x="638.71" y="446.25" width="19.3" height="29.4" fill="#ff0000" stroke="#100000" stroke-width="0.6"/>
<rect x="662.77" y="456.05" width="19.3" height="19.6" fill="#ff0000" stroke="#100000" stroke-width="0.6"/>
<line x1="561.95" x2="564.15" y1="475.55" y2="475.55" stroke="#2b2b2b" stroke-width="1.1"/>
<text transform="translate(560.95,480.15) rotate(0.03)" font-size="15.5" text-anchor="end">0</text>
<line x1="562.75" x2="564.15" y1="465.87" y2="465.87" stroke="#2b2b2b" stroke-width="0.7"/>
<line x1="561.95" x2="564.15" y1="456.19" y2="456.19" stroke="#2b2b2b" stroke-width="1.1"/>
<text transform="translate(560.95,460.79) rotate(0.03)" font-size="15.5" text-anchor="end">20</text>
<line x1="562.75" x2="564.15" y1="446.51" y2="446.51" stroke="#2b2b2b" stroke-width="0.7"/>
<line x1="561.95" x2="564.15" y1="436.83" y2="436.83" stroke="#2b2b2b" stroke-width="1.1"/>
<text transform="translate(560.95,441.43) rotate(0.03)" font-size="15.5" text-anchor="end">40</text>
<line x1="562.75" x2="564.15" y1="427.15" y2="427.15" stroke="#2b2b2b" stroke-width="0.7"/>
<line x1="561.95" x2="564.15" y1="417.47" y2="417.47" stroke="#2b2b2b" stroke-width="1.1"/>
<text transform="translate(560.95,422.07) rotate(0.03)" font-size="15.5" text-anchor="end">60</text>
<line x1="562.75" x2="564.15" y1="407.79" y2="407.79" stroke="#2b2b2b" stroke-width="0.7"/>
<line x1="561.95" x2="564.15" y1="398.11" y2="398.11" stroke="#2b2b2b" stroke-width="1.1"/>
<text transform="translate(560.95,402.71) rotate(0.03)" font-size="15.5" text-anchor="end">80</text>
<line x1="562.75" x2="564.15" y1="388.43" y2="388.43" stroke="#2b2b2b" stroke-width="0.7"/>
<line x1="561.95" x2="564.15" y1="378.75" y2="378.75" stroke="#2b2b2b" stroke-width="1.1"/>
<text transform="translate(560.95,383.35) rotate(0.03)" font-size="15.5" text-anchor="end">100</text>
<line x1="576.18" x2="576.18" y1="475.55" y2="477.55" stroke="#2b2b2b" stroke-width="1.1"/>
<text transform="translate(576.38,490.45) rotate(0.03)" font-size="15.5" text-anchor="middle">T0</text>
<line x1="588.21" x2="588.21" y1="475.55" y2="476.75" stroke="#2b2b2b" stroke-width="0.8"/>
<line x1="600.24" x2="600.24" y1="475.55" y2="477.55" stroke="#2b2b2b" stroke-width="1.1"/>
<text transform="translate(600.44,490.45) rotate(0.03)" font-size="15.5" text-anchor="middle">T1</text>
<line x1="612.27" x2="612.27" y1="475.55" y2="476.75" stroke="#2b2b2b" stroke-width="0.8"/>
<line x1="624.3" x2="624.3" y1="475.55" y2="477.55" stroke="#2b2b2b" stroke-width="1.1"/>
<text transform="translate(624.5,490.45) rotate(0.03)" font-size="15.5" text-anchor="middle">T2</text>
<line x1="636.33" x2="636.33" y1="475.55" y2="476.75" stroke="#2b2b2b" stroke-width="0.8"/>
<line x1="648.36" x2="648.36" y1="475.55" y2="477.55" stroke="#2b2b2b" stroke-width="1.1"/>
<text transform="translate(648.56,490.45) rotate(0.03)" font-size="15.5" text-anchor="middle">T3</text>
<line x1="660.39" x2="660.39" y1="475.55" y2="476.75" stroke="#2b2b2b" stroke-width="0.8"/>
<line x1="672.42" x2="672.42" y1="475.55" y2="477.55" stroke="#2b2b2b" stroke-width="1.1"/>
<text transform="translate(672.62,490.45) rotate(0.03)" font-size="15.5" text-anchor="middle">T4</text>
<text transform="translate(624.15,387.2) rotate(0.03)" font-size="10.2" text-anchor="middle" fill="#1a1a1a" stroke="none">PG0011266</text>
<text transform="translate(576.18,474) rotate(0.03)" font-size="10" text-anchor="middle" fill="#1a1a1a" stroke="none">c</text>
<path d="M600.24 469.6V471.2M596.24 469.6H603.84M596.24 471.2H603.84" stroke="#0a0a0a" stroke-width="1.1" fill="none"/>
<text transform="translate(600.24,469.3) rotate(0.03)" font-size="10" text-anchor="middle" fill="#1a1a1a" stroke="none">c</text>
<path d="M624.3 397.7V414.75M620.3 397.7H627.9M620.3 414.75H627.9" stroke="#0a0a0a" stroke-width="1.1" fill="none"/>
<text transform="translate(624.3,397.3) rotate(0.03)" font-size="10" text-anchor="middle" fill="#1a1a1a" stroke="none">a</text>
<path d="M648.36 440.75V451.1M644.36 440.75H651.96M644.36 451.1H651.96" stroke="#0a0a0a" stroke-width="1.1" fill="none"/>
<text transform="translate(648.36,440) rotate(0.03)" font-size="10" text-anchor="middle" fill="#1a1a1a" stroke="none">b</text>
<path d="M672.42 453.1V458.35M668.42 453.1H676.02M668.42 458.35H676.02" stroke="#0a0a0a" stroke-width="1.1" fill="none"/>
<text transform="translate(672.42,452.65) rotate(0.03)" font-size="10" text-anchor="middle" fill="#1a1a1a" stroke="none">b</text>
</g></svg>
</body></html>
